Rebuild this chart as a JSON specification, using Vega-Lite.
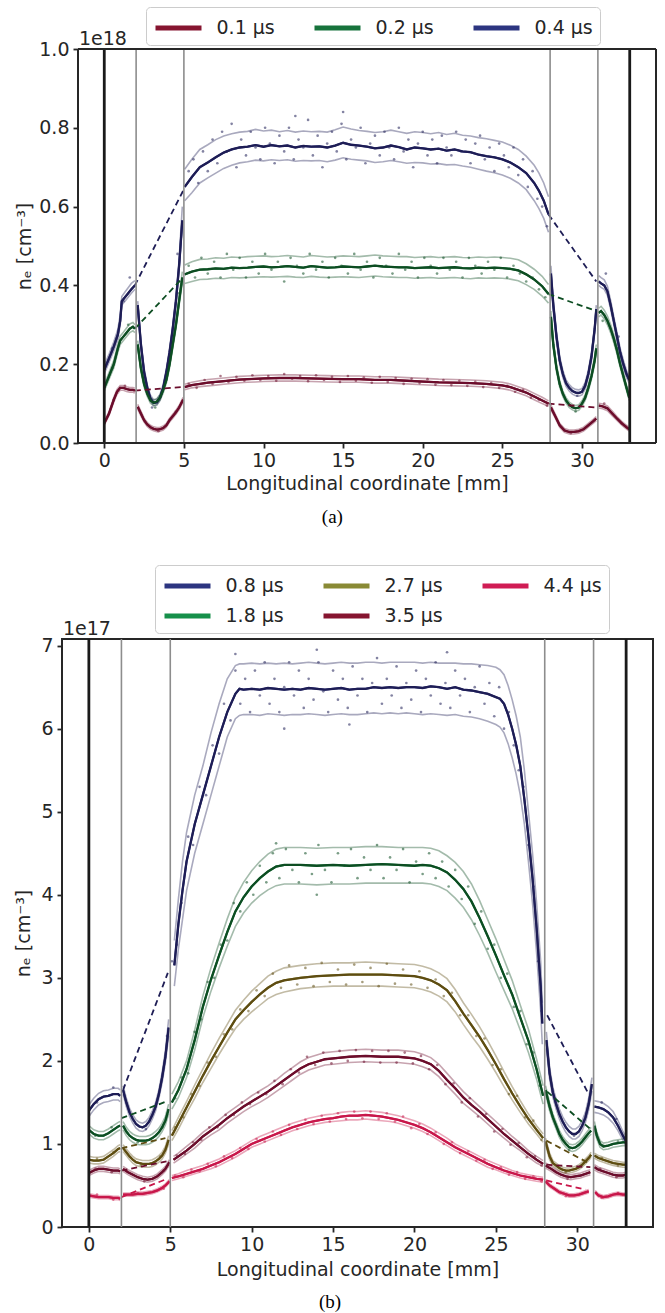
{
"$schema":"https://vega.github.io/schema/vega-lite/v6.json",
"background":"white",
"padding":{"left":13,"top":6,"right":4,"bottom":2},
"config":{
 "font":"DejaVu Sans",
 "view":{"stroke":"#262626","strokeWidth":2},
 "axis":{"grid":false,"domain":false,"tickColor":"#262626","tickWidth":1.8,"tickSize":5,"labelFontSize":19,"labelColor":"#262626","labelPadding":3,"titleFontSize":19,"titleFontWeight":"normal","titleColor":"#262626"},
 "axisY":{"labelPadding":4,"minExtent":0},
 "legend":{"orient":"none","direction":"horizontal","columns":3,"symbolType":"M-2,0H2","symbolStrokeWidth":5,"symbolSize":529,"symbolOffset":11.5,"symbolOpacity":1,"labelFontSize":19,"labelColor":"#262626","labelOffset":24,"columnPadding":29,"rowPadding":6,"padding":7,"strokeColor":"#cccccc","fillColor":"white","cornerRadius":4}
},
"datasets":{
"gr":[{"x":2},{"x":5},{"x":28},{"x":31}],
"bk":[{"x":0},{"x":33}],
"la":[
{"t":"0.4 μs","s":1,"x":0,"y":0.186,"l":0.176,"h":0.197},{"t":"0.4 μs","s":1,"x":0.3,"y":0.215,"l":0.205,"h":0.226},{"t":"0.4 μs","s":1,"x":0.6,"y":0.245,"l":0.234,"h":0.257},{"t":"0.4 μs","s":1,"x":0.85,"y":0.275,"l":0.264,"h":0.288},{"t":"0.4 μs","s":1,"x":1.0,"y":0.31,"l":0.3,"h":0.325},{"t":"0.4 μs","s":1,"x":1.1,"y":0.36,"l":0.35,"h":0.372},{"t":"0.4 μs","s":1,"x":1.3,"y":0.37,"l":0.36,"h":0.383},{"t":"0.4 μs","s":1,"x":1.5,"y":0.38,"l":0.37,"h":0.394},{"t":"0.4 μs","s":1,"x":1.7,"y":0.39,"l":0.38,"h":0.405},{"t":"0.4 μs","s":1,"x":1.92,"y":0.4,"l":0.39,"h":0.412},
{"t":"0.4 μs","s":2,"x":2.1,"y":0.35,"l":0.34,"h":0.36},{"t":"0.4 μs","s":2,"x":2.3,"y":0.25,"l":0.24,"h":0.26},{"t":"0.4 μs","s":2,"x":2.5,"y":0.18,"l":0.17,"h":0.19},{"t":"0.4 μs","s":2,"x":2.7,"y":0.14,"l":0.132,"h":0.148},{"t":"0.4 μs","s":2,"x":2.9,"y":0.113,"l":0.106,"h":0.121},{"t":"0.4 μs","s":2,"x":3.1,"y":0.102,"l":0.095,"h":0.11},{"t":"0.4 μs","s":2,"x":3.3,"y":0.103,"l":0.096,"h":0.111},{"t":"0.4 μs","s":2,"x":3.5,"y":0.115,"l":0.108,"h":0.123},{"t":"0.4 μs","s":2,"x":3.7,"y":0.14,"l":0.132,"h":0.148},{"t":"0.4 μs","s":2,"x":3.9,"y":0.18,"l":0.171,"h":0.189},{"t":"0.4 μs","s":2,"x":4.1,"y":0.23,"l":0.22,"h":0.24},{"t":"0.4 μs","s":2,"x":4.3,"y":0.29,"l":0.28,"h":0.3},{"t":"0.4 μs","s":2,"x":4.5,"y":0.36,"l":0.35,"h":0.372},{"t":"0.4 μs","s":2,"x":4.7,"y":0.45,"l":0.44,"h":0.465},{"t":"0.4 μs","s":2,"x":4.9,"y":0.565,"l":0.55,"h":0.6},
{"t":"0.4 μs","s":3,"x":5.05,"y":0.65,"l":0.615,"h":0.695},{"t":"0.4 μs","s":3,"x":5.5,"y":0.675,"l":0.635,"h":0.72},{"t":"0.4 μs","s":3,"x":6,"y":0.7,"l":0.66,"h":0.745},{"t":"0.4 μs","s":3,"x":6.5,"y":0.712,"l":0.673,"h":0.757},{"t":"0.4 μs","s":3,"x":7,"y":0.725,"l":0.685,"h":0.77},{"t":"0.4 μs","s":3,"x":7.5,"y":0.737,"l":0.697,"h":0.779},{"t":"0.4 μs","s":3,"x":8,"y":0.745,"l":0.705,"h":0.785},{"t":"0.4 μs","s":3,"x":8.5,"y":0.75,"l":0.711,"h":0.789},{"t":"0.4 μs","s":3,"x":9,"y":0.752,"l":0.714,"h":0.791},{"t":"0.4 μs","s":3,"x":9.5,"y":0.756,"l":0.718,"h":0.796},{"t":"0.4 μs","s":3,"x":10,"y":0.752,"l":0.716,"h":0.792},{"t":"0.4 μs","s":3,"x":10.5,"y":0.756,"l":0.719,"h":0.794},{"t":"0.4 μs","s":3,"x":11,"y":0.753,"l":0.717,"h":0.79},{"t":"0.4 μs","s":3,"x":11.5,"y":0.755,"l":0.719,"h":0.793},{"t":"0.4 μs","s":3,"x":12,"y":0.75,"l":0.715,"h":0.789},{"t":"0.4 μs","s":3,"x":12.5,"y":0.754,"l":0.717,"h":0.792},{"t":"0.4 μs","s":3,"x":13,"y":0.752,"l":0.716,"h":0.79},{"t":"0.4 μs","s":3,"x":13.5,"y":0.753,"l":0.717,"h":0.791},{"t":"0.4 μs","s":3,"x":14,"y":0.75,"l":0.714,"h":0.789},{"t":"0.4 μs","s":3,"x":14.5,"y":0.755,"l":0.718,"h":0.795},{"t":"0.4 μs","s":3,"x":15,"y":0.762,"l":0.724,"h":0.802},{"t":"0.4 μs","s":3,"x":15.5,"y":0.757,"l":0.72,"h":0.797},{"t":"0.4 μs","s":3,"x":16,"y":0.755,"l":0.718,"h":0.793},{"t":"0.4 μs","s":3,"x":16.5,"y":0.752,"l":0.716,"h":0.791},{"t":"0.4 μs","s":3,"x":17,"y":0.748,"l":0.712,"h":0.788},{"t":"0.4 μs","s":3,"x":17.5,"y":0.75,"l":0.714,"h":0.79},{"t":"0.4 μs","s":3,"x":18,"y":0.755,"l":0.717,"h":0.794},{"t":"0.4 μs","s":3,"x":18.5,"y":0.751,"l":0.714,"h":0.79},{"t":"0.4 μs","s":3,"x":19,"y":0.745,"l":0.71,"h":0.786},{"t":"0.4 μs","s":3,"x":19.5,"y":0.75,"l":0.712,"h":0.79},{"t":"0.4 μs","s":3,"x":20,"y":0.748,"l":0.711,"h":0.788},{"t":"0.4 μs","s":3,"x":20.5,"y":0.745,"l":0.708,"h":0.785},{"t":"0.4 μs","s":3,"x":21,"y":0.747,"l":0.709,"h":0.788},{"t":"0.4 μs","s":3,"x":21.5,"y":0.742,"l":0.706,"h":0.783},{"t":"0.4 μs","s":3,"x":22,"y":0.745,"l":0.707,"h":0.786},{"t":"0.4 μs","s":3,"x":22.5,"y":0.74,"l":0.703,"h":0.781},{"t":"0.4 μs","s":3,"x":23,"y":0.738,"l":0.7,"h":0.779},{"t":"0.4 μs","s":3,"x":23.5,"y":0.732,"l":0.695,"h":0.775},{"t":"0.4 μs","s":3,"x":24,"y":0.728,"l":0.69,"h":0.772},{"t":"0.4 μs","s":3,"x":24.5,"y":0.725,"l":0.686,"h":0.768},{"t":"0.4 μs","s":3,"x":25,"y":0.72,"l":0.68,"h":0.764},{"t":"0.4 μs","s":3,"x":25.5,"y":0.712,"l":0.672,"h":0.756},{"t":"0.4 μs","s":3,"x":26,"y":0.7,"l":0.66,"h":0.745},{"t":"0.4 μs","s":3,"x":26.5,"y":0.685,"l":0.643,"h":0.728},{"t":"0.4 μs","s":3,"x":27,"y":0.66,"l":0.615,"h":0.705},{"t":"0.4 μs","s":3,"x":27.3,"y":0.64,"l":0.595,"h":0.685},{"t":"0.4 μs","s":3,"x":27.6,"y":0.615,"l":0.57,"h":0.66},{"t":"0.4 μs","s":3,"x":27.9,"y":0.58,"l":0.535,"h":0.625},
{"t":"0.4 μs","s":4,"x":28.05,"y":0.43,"l":0.41,"h":0.45},{"t":"0.4 μs","s":4,"x":28.2,"y":0.35,"l":0.335,"h":0.365},{"t":"0.4 μs","s":4,"x":28.4,"y":0.27,"l":0.258,"h":0.282},{"t":"0.4 μs","s":4,"x":28.6,"y":0.21,"l":0.2,"h":0.22},{"t":"0.4 μs","s":4,"x":28.8,"y":0.175,"l":0.166,"h":0.184},{"t":"0.4 μs","s":4,"x":29.0,"y":0.152,"l":0.144,"h":0.16},{"t":"0.4 μs","s":4,"x":29.2,"y":0.14,"l":0.132,"h":0.148},{"t":"0.4 μs","s":4,"x":29.4,"y":0.132,"l":0.124,"h":0.14},{"t":"0.4 μs","s":4,"x":29.6,"y":0.128,"l":0.12,"h":0.136},{"t":"0.4 μs","s":4,"x":29.8,"y":0.127,"l":0.119,"h":0.135},{"t":"0.4 μs","s":4,"x":30.0,"y":0.13,"l":0.122,"h":0.138},{"t":"0.4 μs","s":4,"x":30.2,"y":0.145,"l":0.137,"h":0.153},{"t":"0.4 μs","s":4,"x":30.4,"y":0.175,"l":0.166,"h":0.184},{"t":"0.4 μs","s":4,"x":30.6,"y":0.22,"l":0.21,"h":0.23},{"t":"0.4 μs","s":4,"x":30.8,"y":0.29,"l":0.28,"h":0.3},{"t":"0.4 μs","s":4,"x":30.9,"y":0.34,"l":0.33,"h":0.35},
{"t":"0.4 μs","s":5,"x":31.05,"y":0.41,"l":0.4,"h":0.425},{"t":"0.4 μs","s":5,"x":31.2,"y":0.405,"l":0.395,"h":0.42},{"t":"0.4 μs","s":5,"x":31.4,"y":0.4,"l":0.39,"h":0.414},{"t":"0.4 μs","s":5,"x":31.6,"y":0.385,"l":0.375,"h":0.398},{"t":"0.4 μs","s":5,"x":31.8,"y":0.35,"l":0.34,"h":0.362},{"t":"0.4 μs","s":5,"x":32.0,"y":0.31,"l":0.3,"h":0.32},{"t":"0.4 μs","s":5,"x":32.2,"y":0.27,"l":0.26,"h":0.28},{"t":"0.4 μs","s":5,"x":32.4,"y":0.23,"l":0.22,"h":0.24},{"t":"0.4 μs","s":5,"x":32.6,"y":0.2,"l":0.19,"h":0.21},{"t":"0.4 μs","s":5,"x":32.8,"y":0.175,"l":0.166,"h":0.184},{"t":"0.4 μs","s":5,"x":32.97,"y":0.16,"l":0.152,"h":0.168},
{"t":"0.2 μs","s":1,"x":0,"y":0.14,"l":0.132,"h":0.148},{"t":"0.2 μs","s":1,"x":0.3,"y":0.17,"l":0.162,"h":0.179},{"t":"0.2 μs","s":1,"x":0.6,"y":0.2,"l":0.191,"h":0.21},{"t":"0.2 μs","s":1,"x":0.85,"y":0.24,"l":0.23,"h":0.25},{"t":"0.2 μs","s":1,"x":1.0,"y":0.26,"l":0.25,"h":0.271},{"t":"0.2 μs","s":1,"x":1.2,"y":0.27,"l":0.26,"h":0.281},{"t":"0.2 μs","s":1,"x":1.4,"y":0.28,"l":0.27,"h":0.292},{"t":"0.2 μs","s":1,"x":1.6,"y":0.29,"l":0.28,"h":0.302},{"t":"0.2 μs","s":1,"x":1.8,"y":0.295,"l":0.285,"h":0.306},{"t":"0.2 μs","s":1,"x":1.92,"y":0.29,"l":0.28,"h":0.3},
{"t":"0.2 μs","s":2,"x":2.1,"y":0.25,"l":0.24,"h":0.26},{"t":"0.2 μs","s":2,"x":2.3,"y":0.19,"l":0.181,"h":0.199},{"t":"0.2 μs","s":2,"x":2.5,"y":0.15,"l":0.142,"h":0.158},{"t":"0.2 μs","s":2,"x":2.7,"y":0.125,"l":0.118,"h":0.132},{"t":"0.2 μs","s":2,"x":2.9,"y":0.108,"l":0.101,"h":0.115},{"t":"0.2 μs","s":2,"x":3.1,"y":0.102,"l":0.095,"h":0.109},{"t":"0.2 μs","s":2,"x":3.3,"y":0.105,"l":0.098,"h":0.112},{"t":"0.2 μs","s":2,"x":3.5,"y":0.115,"l":0.108,"h":0.122},{"t":"0.2 μs","s":2,"x":3.7,"y":0.135,"l":0.127,"h":0.143},{"t":"0.2 μs","s":2,"x":3.9,"y":0.16,"l":0.152,"h":0.168},{"t":"0.2 μs","s":2,"x":4.1,"y":0.2,"l":0.191,"h":0.209},{"t":"0.2 μs","s":2,"x":4.3,"y":0.25,"l":0.24,"h":0.26},{"t":"0.2 μs","s":2,"x":4.5,"y":0.3,"l":0.29,"h":0.31},{"t":"0.2 μs","s":2,"x":4.7,"y":0.36,"l":0.35,"h":0.37},{"t":"0.2 μs","s":2,"x":4.9,"y":0.42,"l":0.405,"h":0.435},
{"t":"0.2 μs","s":3,"x":5.05,"y":0.428,"l":0.405,"h":0.452},{"t":"0.2 μs","s":3,"x":5.5,"y":0.435,"l":0.41,"h":0.46},{"t":"0.2 μs","s":3,"x":6,"y":0.44,"l":0.415,"h":0.466},{"t":"0.2 μs","s":3,"x":6.5,"y":0.441,"l":0.416,"h":0.467},{"t":"0.2 μs","s":3,"x":7,"y":0.443,"l":0.418,"h":0.47},{"t":"0.2 μs","s":3,"x":7.5,"y":0.442,"l":0.417,"h":0.469},{"t":"0.2 μs","s":3,"x":8,"y":0.445,"l":0.42,"h":0.472},{"t":"0.2 μs","s":3,"x":8.5,"y":0.444,"l":0.419,"h":0.471},{"t":"0.2 μs","s":3,"x":9,"y":0.445,"l":0.42,"h":0.473},{"t":"0.2 μs","s":3,"x":9.5,"y":0.447,"l":0.421,"h":0.474},{"t":"0.2 μs","s":3,"x":10,"y":0.448,"l":0.422,"h":0.475},{"t":"0.2 μs","s":3,"x":10.5,"y":0.446,"l":0.421,"h":0.473},{"t":"0.2 μs","s":3,"x":11,"y":0.447,"l":0.422,"h":0.474},{"t":"0.2 μs","s":3,"x":11.5,"y":0.449,"l":0.423,"h":0.476},{"t":"0.2 μs","s":3,"x":12,"y":0.447,"l":0.421,"h":0.474},{"t":"0.2 μs","s":3,"x":12.5,"y":0.445,"l":0.42,"h":0.472},{"t":"0.2 μs","s":3,"x":13,"y":0.449,"l":0.423,"h":0.476},{"t":"0.2 μs","s":3,"x":13.5,"y":0.447,"l":0.421,"h":0.474},{"t":"0.2 μs","s":3,"x":14,"y":0.445,"l":0.42,"h":0.472},{"t":"0.2 μs","s":3,"x":14.5,"y":0.446,"l":0.421,"h":0.473},{"t":"0.2 μs","s":3,"x":15,"y":0.448,"l":0.422,"h":0.475},{"t":"0.2 μs","s":3,"x":15.5,"y":0.447,"l":0.421,"h":0.474},{"t":"0.2 μs","s":3,"x":16,"y":0.446,"l":0.42,"h":0.473},{"t":"0.2 μs","s":3,"x":16.5,"y":0.448,"l":0.422,"h":0.475},{"t":"0.2 μs","s":3,"x":17,"y":0.45,"l":0.424,"h":0.477},{"t":"0.2 μs","s":3,"x":17.5,"y":0.448,"l":0.422,"h":0.475},{"t":"0.2 μs","s":3,"x":18,"y":0.447,"l":0.421,"h":0.474},{"t":"0.2 μs","s":3,"x":18.5,"y":0.446,"l":0.42,"h":0.473},{"t":"0.2 μs","s":3,"x":19,"y":0.446,"l":0.42,"h":0.473},{"t":"0.2 μs","s":3,"x":19.5,"y":0.444,"l":0.418,"h":0.471},{"t":"0.2 μs","s":3,"x":20,"y":0.445,"l":0.419,"h":0.472},{"t":"0.2 μs","s":3,"x":20.5,"y":0.446,"l":0.42,"h":0.473},{"t":"0.2 μs","s":3,"x":21,"y":0.444,"l":0.418,"h":0.471},{"t":"0.2 μs","s":3,"x":21.5,"y":0.445,"l":0.419,"h":0.472},{"t":"0.2 μs","s":3,"x":22,"y":0.446,"l":0.42,"h":0.473},{"t":"0.2 μs","s":3,"x":22.5,"y":0.444,"l":0.418,"h":0.471},{"t":"0.2 μs","s":3,"x":23,"y":0.443,"l":0.417,"h":0.47},{"t":"0.2 μs","s":3,"x":23.5,"y":0.445,"l":0.419,"h":0.472},{"t":"0.2 μs","s":3,"x":24,"y":0.444,"l":0.418,"h":0.471},{"t":"0.2 μs","s":3,"x":24.5,"y":0.445,"l":0.419,"h":0.472},{"t":"0.2 μs","s":3,"x":25,"y":0.444,"l":0.418,"h":0.471},{"t":"0.2 μs","s":3,"x":25.5,"y":0.442,"l":0.416,"h":0.469},{"t":"0.2 μs","s":3,"x":26,"y":0.438,"l":0.412,"h":0.465},{"t":"0.2 μs","s":3,"x":26.5,"y":0.428,"l":0.402,"h":0.455},{"t":"0.2 μs","s":3,"x":27,"y":0.415,"l":0.39,"h":0.441},{"t":"0.2 μs","s":3,"x":27.5,"y":0.398,"l":0.373,"h":0.423},{"t":"0.2 μs","s":3,"x":27.9,"y":0.378,"l":0.355,"h":0.402},
{"t":"0.2 μs","s":4,"x":28.05,"y":0.32,"l":0.305,"h":0.335},{"t":"0.2 μs","s":4,"x":28.2,"y":0.25,"l":0.24,"h":0.26},{"t":"0.2 μs","s":4,"x":28.4,"y":0.19,"l":0.181,"h":0.199},{"t":"0.2 μs","s":4,"x":28.6,"y":0.15,"l":0.142,"h":0.158},{"t":"0.2 μs","s":4,"x":28.8,"y":0.125,"l":0.118,"h":0.132},{"t":"0.2 μs","s":4,"x":29.0,"y":0.108,"l":0.101,"h":0.115},{"t":"0.2 μs","s":4,"x":29.2,"y":0.097,"l":0.09,"h":0.104},{"t":"0.2 μs","s":4,"x":29.4,"y":0.091,"l":0.084,"h":0.098},{"t":"0.2 μs","s":4,"x":29.6,"y":0.088,"l":0.081,"h":0.095},{"t":"0.2 μs","s":4,"x":29.8,"y":0.09,"l":0.083,"h":0.097},{"t":"0.2 μs","s":4,"x":30.0,"y":0.1,"l":0.093,"h":0.107},{"t":"0.2 μs","s":4,"x":30.2,"y":0.115,"l":0.108,"h":0.122},{"t":"0.2 μs","s":4,"x":30.4,"y":0.14,"l":0.132,"h":0.148},{"t":"0.2 μs","s":4,"x":30.6,"y":0.17,"l":0.162,"h":0.178},{"t":"0.2 μs","s":4,"x":30.8,"y":0.21,"l":0.2,"h":0.22},{"t":"0.2 μs","s":4,"x":30.9,"y":0.24,"l":0.23,"h":0.25},
{"t":"0.2 μs","s":5,"x":31.05,"y":0.33,"l":0.32,"h":0.342},{"t":"0.2 μs","s":5,"x":31.2,"y":0.335,"l":0.325,"h":0.347},{"t":"0.2 μs","s":5,"x":31.4,"y":0.325,"l":0.315,"h":0.337},{"t":"0.2 μs","s":5,"x":31.6,"y":0.31,"l":0.3,"h":0.322},{"t":"0.2 μs","s":5,"x":31.8,"y":0.29,"l":0.28,"h":0.301},{"t":"0.2 μs","s":5,"x":32.0,"y":0.265,"l":0.255,"h":0.275},{"t":"0.2 μs","s":5,"x":32.2,"y":0.235,"l":0.226,"h":0.245},{"t":"0.2 μs","s":5,"x":32.4,"y":0.2,"l":0.192,"h":0.209},{"t":"0.2 μs","s":5,"x":32.6,"y":0.17,"l":0.162,"h":0.178},{"t":"0.2 μs","s":5,"x":32.8,"y":0.14,"l":0.133,"h":0.147},{"t":"0.2 μs","s":5,"x":32.97,"y":0.115,"l":0.108,"h":0.122},
{"t":"0.1 μs","s":1,"x":0,"y":0.05,"l":0.045,"h":0.055},{"t":"0.1 μs","s":1,"x":0.3,"y":0.075,"l":0.07,"h":0.08},{"t":"0.1 μs","s":1,"x":0.6,"y":0.11,"l":0.104,"h":0.116},{"t":"0.1 μs","s":1,"x":0.8,"y":0.13,"l":0.124,"h":0.136},{"t":"0.1 μs","s":1,"x":1.0,"y":0.14,"l":0.134,"h":0.146},{"t":"0.1 μs","s":1,"x":1.2,"y":0.14,"l":0.134,"h":0.146},{"t":"0.1 μs","s":1,"x":1.4,"y":0.137,"l":0.131,"h":0.143},{"t":"0.1 μs","s":1,"x":1.6,"y":0.135,"l":0.129,"h":0.141},{"t":"0.1 μs","s":1,"x":1.8,"y":0.135,"l":0.129,"h":0.141},{"t":"0.1 μs","s":1,"x":1.92,"y":0.133,"l":0.127,"h":0.139},
{"t":"0.1 μs","s":2,"x":2.1,"y":0.092,"l":0.086,"h":0.098},{"t":"0.1 μs","s":2,"x":2.3,"y":0.075,"l":0.069,"h":0.081},{"t":"0.1 μs","s":2,"x":2.5,"y":0.058,"l":0.053,"h":0.063},{"t":"0.1 μs","s":2,"x":2.7,"y":0.047,"l":0.042,"h":0.052},{"t":"0.1 μs","s":2,"x":2.9,"y":0.04,"l":0.035,"h":0.045},{"t":"0.1 μs","s":2,"x":3.1,"y":0.036,"l":0.031,"h":0.041},{"t":"0.1 μs","s":2,"x":3.3,"y":0.034,"l":0.029,"h":0.039},{"t":"0.1 μs","s":2,"x":3.5,"y":0.035,"l":0.03,"h":0.04},{"t":"0.1 μs","s":2,"x":3.7,"y":0.038,"l":0.033,"h":0.043},{"t":"0.1 μs","s":2,"x":3.9,"y":0.045,"l":0.04,"h":0.05},{"t":"0.1 μs","s":2,"x":4.1,"y":0.058,"l":0.053,"h":0.063},{"t":"0.1 μs","s":2,"x":4.3,"y":0.068,"l":0.063,"h":0.073},{"t":"0.1 μs","s":2,"x":4.5,"y":0.078,"l":0.073,"h":0.083},{"t":"0.1 μs","s":2,"x":4.7,"y":0.09,"l":0.085,"h":0.095},{"t":"0.1 μs","s":2,"x":4.95,"y":0.11,"l":0.104,"h":0.116},
{"t":"0.1 μs","s":3,"x":5.05,"y":0.142,"l":0.135,"h":0.149},{"t":"0.1 μs","s":3,"x":5.5,"y":0.147,"l":0.14,"h":0.154},{"t":"0.1 μs","s":3,"x":6,"y":0.15,"l":0.143,"h":0.158},{"t":"0.1 μs","s":3,"x":6.5,"y":0.153,"l":0.145,"h":0.161},{"t":"0.1 μs","s":3,"x":7,"y":0.155,"l":0.147,"h":0.163},{"t":"0.1 μs","s":3,"x":7.5,"y":0.157,"l":0.149,"h":0.165},{"t":"0.1 μs","s":3,"x":8,"y":0.159,"l":0.151,"h":0.167},{"t":"0.1 μs","s":3,"x":8.5,"y":0.161,"l":0.153,"h":0.169},{"t":"0.1 μs","s":3,"x":9,"y":0.162,"l":0.154,"h":0.17},{"t":"0.1 μs","s":3,"x":9.5,"y":0.163,"l":0.155,"h":0.171},{"t":"0.1 μs","s":3,"x":10,"y":0.164,"l":0.156,"h":0.172},{"t":"0.1 μs","s":3,"x":11,"y":0.165,"l":0.157,"h":0.173},{"t":"0.1 μs","s":3,"x":12,"y":0.165,"l":0.157,"h":0.173},{"t":"0.1 μs","s":3,"x":13,"y":0.164,"l":0.156,"h":0.172},{"t":"0.1 μs","s":3,"x":14,"y":0.163,"l":0.155,"h":0.171},{"t":"0.1 μs","s":3,"x":15,"y":0.162,"l":0.154,"h":0.17},{"t":"0.1 μs","s":3,"x":16,"y":0.162,"l":0.154,"h":0.17},{"t":"0.1 μs","s":3,"x":17,"y":0.16,"l":0.152,"h":0.168},{"t":"0.1 μs","s":3,"x":18,"y":0.16,"l":0.152,"h":0.168},{"t":"0.1 μs","s":3,"x":19,"y":0.158,"l":0.15,"h":0.166},{"t":"0.1 μs","s":3,"x":20,"y":0.156,"l":0.148,"h":0.164},{"t":"0.1 μs","s":3,"x":21,"y":0.154,"l":0.146,"h":0.162},{"t":"0.1 μs","s":3,"x":22,"y":0.153,"l":0.145,"h":0.161},{"t":"0.1 μs","s":3,"x":23,"y":0.152,"l":0.144,"h":0.16},{"t":"0.1 μs","s":3,"x":24,"y":0.15,"l":0.142,"h":0.158},{"t":"0.1 μs","s":3,"x":25,"y":0.146,"l":0.138,"h":0.154},{"t":"0.1 μs","s":3,"x":25.5,"y":0.142,"l":0.134,"h":0.15},{"t":"0.1 μs","s":3,"x":26,"y":0.135,"l":0.127,"h":0.143},{"t":"0.1 μs","s":3,"x":26.5,"y":0.128,"l":0.12,"h":0.136},{"t":"0.1 μs","s":3,"x":27,"y":0.118,"l":0.11,"h":0.126},{"t":"0.1 μs","s":3,"x":27.5,"y":0.108,"l":0.1,"h":0.116},{"t":"0.1 μs","s":3,"x":27.9,"y":0.1,"l":0.093,"h":0.107},
{"t":"0.1 μs","s":4,"x":28.05,"y":0.09,"l":0.084,"h":0.096},{"t":"0.1 μs","s":4,"x":28.3,"y":0.07,"l":0.065,"h":0.075},{"t":"0.1 μs","s":4,"x":28.6,"y":0.045,"l":0.04,"h":0.05},{"t":"0.1 μs","s":4,"x":28.9,"y":0.032,"l":0.027,"h":0.037},{"t":"0.1 μs","s":4,"x":29.2,"y":0.028,"l":0.023,"h":0.033},{"t":"0.1 μs","s":4,"x":29.5,"y":0.028,"l":0.023,"h":0.033},{"t":"0.1 μs","s":4,"x":29.8,"y":0.03,"l":0.025,"h":0.035},{"t":"0.1 μs","s":4,"x":30.1,"y":0.035,"l":0.03,"h":0.04},{"t":"0.1 μs","s":4,"x":30.4,"y":0.045,"l":0.04,"h":0.05},{"t":"0.1 μs","s":4,"x":30.7,"y":0.055,"l":0.05,"h":0.06},{"t":"0.1 μs","s":4,"x":30.9,"y":0.062,"l":0.057,"h":0.067},
{"t":"0.1 μs","s":5,"x":31.05,"y":0.095,"l":0.089,"h":0.101},{"t":"0.1 μs","s":5,"x":31.3,"y":0.093,"l":0.087,"h":0.099},{"t":"0.1 μs","s":5,"x":31.6,"y":0.088,"l":0.082,"h":0.094},{"t":"0.1 μs","s":5,"x":31.9,"y":0.075,"l":0.069,"h":0.081},{"t":"0.1 μs","s":5,"x":32.2,"y":0.062,"l":0.057,"h":0.067},{"t":"0.1 μs","s":5,"x":32.5,"y":0.05,"l":0.045,"h":0.055},{"t":"0.1 μs","s":5,"x":32.8,"y":0.04,"l":0.035,"h":0.045},{"t":"0.1 μs","s":5,"x":32.97,"y":0.035,"l":0.03,"h":0.04}
],
"da":[
{"t":"0.4 μs","s":"L","x":1.92,"y":0.4},{"t":"0.4 μs","s":"L","x":4.95,"y":0.64},{"t":"0.4 μs","s":"R","x":27.9,"y":0.58},{"t":"0.4 μs","s":"R","x":30.9,"y":0.41},
{"t":"0.2 μs","s":"L","x":1.92,"y":0.29},{"t":"0.2 μs","s":"L","x":4.95,"y":0.42},{"t":"0.2 μs","s":"R","x":27.9,"y":0.378},{"t":"0.2 μs","s":"R","x":30.9,"y":0.335},
{"t":"0.1 μs","s":"L","x":1.92,"y":0.133},{"t":"0.1 μs","s":"L","x":4.95,"y":0.142},{"t":"0.1 μs","s":"R","x":27.9,"y":0.1},{"t":"0.1 μs","s":"R","x":30.9,"y":0.09}
],
"pa":[
{"t":"0.4 μs","x":5.3,"y":0.69},{"t":"0.4 μs","x":5.6,"y":0.72},{"t":"0.4 μs","x":5.9,"y":0.66},{"t":"0.4 μs","x":6.2,"y":0.74},{"t":"0.4 μs","x":6.5,"y":0.69},{"t":"0.4 μs","x":6.8,"y":0.77},{"t":"0.4 μs","x":7.1,"y":0.71},{"t":"0.4 μs","x":7.4,"y":0.79},{"t":"0.4 μs","x":7.7,"y":0.74},{"t":"0.4 μs","x":8.0,"y":0.81},{"t":"0.4 μs","x":8.3,"y":0.7},{"t":"0.4 μs","x":8.6,"y":0.77},{"t":"0.4 μs","x":8.9,"y":0.73},{"t":"0.4 μs","x":9.2,"y":0.79},{"t":"0.4 μs","x":9.5,"y":0.75},{"t":"0.4 μs","x":9.8,"y":0.72},{"t":"0.4 μs","x":10.1,"y":0.8},{"t":"0.4 μs","x":10.4,"y":0.76},{"t":"0.4 μs","x":10.7,"y":0.71},{"t":"0.4 μs","x":11.0,"y":0.78},{"t":"0.4 μs","x":11.3,"y":0.74},{"t":"0.4 μs","x":11.6,"y":0.8},{"t":"0.4 μs","x":11.9,"y":0.72},{"t":"0.4 μs","x":12.2,"y":0.77},{"t":"0.4 μs","x":12.5,"y":0.75},{"t":"0.4 μs","x":12.8,"y":0.82},{"t":"0.4 μs","x":13.1,"y":0.73},{"t":"0.4 μs","x":13.4,"y":0.78},{"t":"0.4 μs","x":13.7,"y":0.7},{"t":"0.4 μs","x":14.0,"y":0.76},{"t":"0.4 μs","x":14.3,"y":0.79},{"t":"0.4 μs","x":14.6,"y":0.74},{"t":"0.4 μs","x":14.9,"y":0.81},{"t":"0.4 μs","x":15.2,"y":0.72},{"t":"0.4 μs","x":15.5,"y":0.77},{"t":"0.4 μs","x":15.8,"y":0.75},{"t":"0.4 μs","x":16.1,"y":0.8},{"t":"0.4 μs","x":16.4,"y":0.71},{"t":"0.4 μs","x":16.7,"y":0.76},{"t":"0.4 μs","x":17.0,"y":0.78},{"t":"0.4 μs","x":17.3,"y":0.73},{"t":"0.4 μs","x":17.6,"y":0.79},{"t":"0.4 μs","x":17.9,"y":0.75},{"t":"0.4 μs","x":18.2,"y":0.72},{"t":"0.4 μs","x":18.5,"y":0.8},{"t":"0.4 μs","x":18.8,"y":0.74},{"t":"0.4 μs","x":19.1,"y":0.77},{"t":"0.4 μs","x":19.4,"y":0.7},{"t":"0.4 μs","x":19.7,"y":0.76},{"t":"0.4 μs","x":20.0,"y":0.79},{"t":"0.4 μs","x":20.3,"y":0.73},{"t":"0.4 μs","x":20.6,"y":0.77},{"t":"0.4 μs","x":20.9,"y":0.71},{"t":"0.4 μs","x":21.2,"y":0.78},{"t":"0.4 μs","x":21.5,"y":0.75},{"t":"0.4 μs","x":21.8,"y":0.73},{"t":"0.4 μs","x":22.1,"y":0.79},{"t":"0.4 μs","x":22.4,"y":0.74},{"t":"0.4 μs","x":22.7,"y":0.77},{"t":"0.4 μs","x":23.0,"y":0.71},{"t":"0.4 μs","x":23.3,"y":0.76},{"t":"0.4 μs","x":23.6,"y":0.78},{"t":"0.4 μs","x":23.9,"y":0.72},{"t":"0.4 μs","x":24.2,"y":0.75},{"t":"0.4 μs","x":24.5,"y":0.69},{"t":"0.4 μs","x":24.8,"y":0.76},{"t":"0.4 μs","x":25.1,"y":0.73},{"t":"0.4 μs","x":25.4,"y":0.7},{"t":"0.4 μs","x":25.7,"y":0.75},{"t":"0.4 μs","x":26.0,"y":0.68},{"t":"0.4 μs","x":26.3,"y":0.72},{"t":"0.4 μs","x":26.6,"y":0.65},{"t":"0.4 μs","x":26.9,"y":0.69},{"t":"0.4 μs","x":27.2,"y":0.62},{"t":"0.4 μs","x":27.5,"y":0.6},{"t":"0.4 μs","x":27.8,"y":0.55},{"t":"0.4 μs","x":12.0,"y":0.83},{"t":"0.4 μs","x":15.0,"y":0.84},{"t":"0.4 μs","x":0.5,"y":0.24},{"t":"0.4 μs","x":1.2,"y":0.36},{"t":"0.4 μs","x":1.6,"y":0.42},{"t":"0.4 μs","x":3.0,"y":0.09},{"t":"0.4 μs","x":4.6,"y":0.48},{"t":"0.4 μs","x":29.7,"y":0.12},{"t":"0.4 μs","x":31.5,"y":0.43},{"t":"0.4 μs","x":32.3,"y":0.27},
{"t":"0.2 μs","x":5.3,"y":0.45},{"t":"0.2 μs","x":5.7,"y":0.42},{"t":"0.2 μs","x":6.1,"y":0.47},{"t":"0.2 μs","x":6.5,"y":0.43},{"t":"0.2 μs","x":6.9,"y":0.46},{"t":"0.2 μs","x":7.3,"y":0.42},{"t":"0.2 μs","x":7.7,"y":0.48},{"t":"0.2 μs","x":8.1,"y":0.44},{"t":"0.2 μs","x":8.5,"y":0.47},{"t":"0.2 μs","x":8.9,"y":0.42},{"t":"0.2 μs","x":9.3,"y":0.46},{"t":"0.2 μs","x":9.7,"y":0.43},{"t":"0.2 μs","x":10.1,"y":0.48},{"t":"0.2 μs","x":10.5,"y":0.44},{"t":"0.2 μs","x":10.9,"y":0.46},{"t":"0.2 μs","x":11.3,"y":0.41},{"t":"0.2 μs","x":11.7,"y":0.47},{"t":"0.2 μs","x":12.1,"y":0.45},{"t":"0.2 μs","x":12.5,"y":0.43},{"t":"0.2 μs","x":12.9,"y":0.48},{"t":"0.2 μs","x":13.3,"y":0.44},{"t":"0.2 μs","x":13.7,"y":0.46},{"t":"0.2 μs","x":14.1,"y":0.42},{"t":"0.2 μs","x":14.5,"y":0.47},{"t":"0.2 μs","x":14.9,"y":0.45},{"t":"0.2 μs","x":15.3,"y":0.43},{"t":"0.2 μs","x":15.7,"y":0.48},{"t":"0.2 μs","x":16.1,"y":0.44},{"t":"0.2 μs","x":16.5,"y":0.46},{"t":"0.2 μs","x":16.9,"y":0.42},{"t":"0.2 μs","x":17.3,"y":0.47},{"t":"0.2 μs","x":17.7,"y":0.45},{"t":"0.2 μs","x":18.1,"y":0.43},{"t":"0.2 μs","x":18.5,"y":0.48},{"t":"0.2 μs","x":18.9,"y":0.44},{"t":"0.2 μs","x":19.3,"y":0.46},{"t":"0.2 μs","x":19.7,"y":0.42},{"t":"0.2 μs","x":20.1,"y":0.47},{"t":"0.2 μs","x":20.5,"y":0.45},{"t":"0.2 μs","x":20.9,"y":0.43},{"t":"0.2 μs","x":21.3,"y":0.47},{"t":"0.2 μs","x":21.7,"y":0.44},{"t":"0.2 μs","x":22.1,"y":0.46},{"t":"0.2 μs","x":22.5,"y":0.42},{"t":"0.2 μs","x":22.9,"y":0.47},{"t":"0.2 μs","x":23.3,"y":0.45},{"t":"0.2 μs","x":23.7,"y":0.43},{"t":"0.2 μs","x":24.1,"y":0.46},{"t":"0.2 μs","x":24.5,"y":0.44},{"t":"0.2 μs","x":24.9,"y":0.47},{"t":"0.2 μs","x":25.3,"y":0.42},{"t":"0.2 μs","x":25.7,"y":0.45},{"t":"0.2 μs","x":26.1,"y":0.43},{"t":"0.2 μs","x":26.5,"y":0.41},{"t":"0.2 μs","x":26.9,"y":0.42},{"t":"0.2 μs","x":27.3,"y":0.39},{"t":"0.2 μs","x":27.7,"y":0.37},{"t":"0.2 μs","x":0.5,"y":0.19},{"t":"0.2 μs","x":1.5,"y":0.3},{"t":"0.2 μs","x":3.2,"y":0.09},{"t":"0.2 μs","x":4.7,"y":0.38},{"t":"0.2 μs","x":29.6,"y":0.08},{"t":"0.2 μs","x":31.3,"y":0.31},{"t":"0.2 μs","x":32.2,"y":0.24},
{"t":"0.1 μs","x":5.3,"y":0.15},{"t":"0.1 μs","x":5.8,"y":0.14},{"t":"0.1 μs","x":6.3,"y":0.16},{"t":"0.1 μs","x":6.8,"y":0.15},{"t":"0.1 μs","x":7.3,"y":0.17},{"t":"0.1 μs","x":7.8,"y":0.155},{"t":"0.1 μs","x":8.3,"y":0.168},{"t":"0.1 μs","x":8.8,"y":0.158},{"t":"0.1 μs","x":9.3,"y":0.172},{"t":"0.1 μs","x":9.8,"y":0.16},{"t":"0.1 μs","x":10.3,"y":0.17},{"t":"0.1 μs","x":10.8,"y":0.158},{"t":"0.1 μs","x":11.3,"y":0.175},{"t":"0.1 μs","x":11.8,"y":0.163},{"t":"0.1 μs","x":12.3,"y":0.17},{"t":"0.1 μs","x":12.8,"y":0.157},{"t":"0.1 μs","x":13.3,"y":0.172},{"t":"0.1 μs","x":13.8,"y":0.16},{"t":"0.1 μs","x":14.3,"y":0.168},{"t":"0.1 μs","x":14.8,"y":0.155},{"t":"0.1 μs","x":15.3,"y":0.17},{"t":"0.1 μs","x":15.8,"y":0.158},{"t":"0.1 μs","x":16.3,"y":0.166},{"t":"0.1 μs","x":16.8,"y":0.153},{"t":"0.1 μs","x":17.3,"y":0.168},{"t":"0.1 μs","x":17.8,"y":0.155},{"t":"0.1 μs","x":18.3,"y":0.165},{"t":"0.1 μs","x":18.8,"y":0.15},{"t":"0.1 μs","x":19.3,"y":0.163},{"t":"0.1 μs","x":19.8,"y":0.152},{"t":"0.1 μs","x":20.3,"y":0.162},{"t":"0.1 μs","x":20.8,"y":0.148},{"t":"0.1 μs","x":21.3,"y":0.16},{"t":"0.1 μs","x":21.8,"y":0.147},{"t":"0.1 μs","x":22.3,"y":0.158},{"t":"0.1 μs","x":22.8,"y":0.145},{"t":"0.1 μs","x":23.3,"y":0.155},{"t":"0.1 μs","x":23.8,"y":0.142},{"t":"0.1 μs","x":24.3,"y":0.152},{"t":"0.1 μs","x":24.8,"y":0.14},{"t":"0.1 μs","x":25.3,"y":0.145},{"t":"0.1 μs","x":25.8,"y":0.13},{"t":"0.1 μs","x":26.3,"y":0.135},{"t":"0.1 μs","x":26.8,"y":0.115},{"t":"0.1 μs","x":27.3,"y":0.11},{"t":"0.1 μs","x":27.8,"y":0.095},{"t":"0.1 μs","x":0.6,"y":0.11},{"t":"0.1 μs","x":1.3,"y":0.145},{"t":"0.1 μs","x":3.4,"y":0.03},{"t":"0.1 μs","x":4.5,"y":0.08},{"t":"0.1 μs","x":29.3,"y":0.025},{"t":"0.1 μs","x":31.4,"y":0.1},{"t":"0.1 μs","x":32.5,"y":0.05}
],
"lb":[
{"t":"0.8 μs","s":1,"x":0,"y":1.4,"l":1.33,"h":1.47},{"t":"0.8 μs","s":1,"x":0.3,"y":1.48,"l":1.41,"h":1.55},{"t":"0.8 μs","s":1,"x":0.6,"y":1.54,"l":1.47,"h":1.61},{"t":"0.8 μs","s":1,"x":0.9,"y":1.57,"l":1.5,"h":1.64},{"t":"0.8 μs","s":1,"x":1.2,"y":1.58,"l":1.51,"h":1.65},{"t":"0.8 μs","s":1,"x":1.5,"y":1.6,"l":1.53,"h":1.67},{"t":"0.8 μs","s":1,"x":1.8,"y":1.6,"l":1.53,"h":1.67},{"t":"0.8 μs","s":1,"x":1.92,"y":1.58,"l":1.51,"h":1.65},
{"t":"0.8 μs","s":2,"x":2.1,"y":1.65,"l":1.6,"h":1.7},{"t":"0.8 μs","s":2,"x":2.3,"y":1.5,"l":1.45,"h":1.55},{"t":"0.8 μs","s":2,"x":2.5,"y":1.38,"l":1.33,"h":1.43},{"t":"0.8 μs","s":2,"x":2.7,"y":1.3,"l":1.25,"h":1.35},{"t":"0.8 μs","s":2,"x":2.9,"y":1.24,"l":1.19,"h":1.29},{"t":"0.8 μs","s":2,"x":3.1,"y":1.21,"l":1.16,"h":1.26},{"t":"0.8 μs","s":2,"x":3.3,"y":1.2,"l":1.15,"h":1.25},{"t":"0.8 μs","s":2,"x":3.5,"y":1.22,"l":1.17,"h":1.27},{"t":"0.8 μs","s":2,"x":3.7,"y":1.27,"l":1.22,"h":1.32},{"t":"0.8 μs","s":2,"x":3.9,"y":1.35,"l":1.3,"h":1.4},{"t":"0.8 μs","s":2,"x":4.1,"y":1.45,"l":1.4,"h":1.5},{"t":"0.8 μs","s":2,"x":4.3,"y":1.6,"l":1.55,"h":1.65},{"t":"0.8 μs","s":2,"x":4.5,"y":1.8,"l":1.74,"h":1.86},{"t":"0.8 μs","s":2,"x":4.7,"y":2.05,"l":1.98,"h":2.12},{"t":"0.8 μs","s":2,"x":4.9,"y":2.4,"l":2.3,"h":2.5},
{"t":"0.8 μs","s":3,"x":5.25,"y":3.15,"l":2.9,"h":3.45},{"t":"0.8 μs","s":3,"x":5.5,"y":3.65,"l":3.35,"h":3.95},{"t":"0.8 μs","s":3,"x":5.75,"y":4.05,"l":3.7,"h":4.4},{"t":"0.8 μs","s":3,"x":6,"y":4.4,"l":4.05,"h":4.75},{"t":"0.8 μs","s":3,"x":6.5,"y":4.85,"l":4.5,"h":5.2},{"t":"0.8 μs","s":3,"x":7,"y":5.2,"l":4.85,"h":5.55},{"t":"0.8 μs","s":3,"x":7.5,"y":5.55,"l":5.2,"h":5.95},{"t":"0.8 μs","s":3,"x":8,"y":5.9,"l":5.55,"h":6.3},{"t":"0.8 μs","s":3,"x":8.5,"y":6.2,"l":5.9,"h":6.6},{"t":"0.8 μs","s":3,"x":9,"y":6.42,"l":6.12,"h":6.76},{"t":"0.8 μs","s":3,"x":9.25,"y":6.48,"l":6.16,"h":6.78},{"t":"0.8 μs","s":3,"x":9.5,"y":6.47,"l":6.17,"h":6.78},{"t":"0.8 μs","s":3,"x":10,"y":6.48,"l":6.17,"h":6.79},{"t":"0.8 μs","s":3,"x":10.5,"y":6.47,"l":6.16,"h":6.78},{"t":"0.8 μs","s":3,"x":11,"y":6.49,"l":6.18,"h":6.79},{"t":"0.8 μs","s":3,"x":11.5,"y":6.48,"l":6.17,"h":6.78},{"t":"0.8 μs","s":3,"x":12,"y":6.47,"l":6.16,"h":6.79},{"t":"0.8 μs","s":3,"x":12.5,"y":6.48,"l":6.17,"h":6.78},{"t":"0.8 μs","s":3,"x":13,"y":6.47,"l":6.17,"h":6.79},{"t":"0.8 μs","s":3,"x":13.5,"y":6.49,"l":6.18,"h":6.8},{"t":"0.8 μs","s":3,"x":14,"y":6.48,"l":6.17,"h":6.79},{"t":"0.8 μs","s":3,"x":14.5,"y":6.47,"l":6.16,"h":6.78},{"t":"0.8 μs","s":3,"x":15,"y":6.48,"l":6.17,"h":6.79},{"t":"0.8 μs","s":3,"x":15.5,"y":6.49,"l":6.18,"h":6.8},{"t":"0.8 μs","s":3,"x":16,"y":6.47,"l":6.17,"h":6.79},{"t":"0.8 μs","s":3,"x":16.5,"y":6.48,"l":6.17,"h":6.79},{"t":"0.8 μs","s":3,"x":17,"y":6.48,"l":6.18,"h":6.8},{"t":"0.8 μs","s":3,"x":17.5,"y":6.5,"l":6.19,"h":6.8},{"t":"0.8 μs","s":3,"x":18,"y":6.49,"l":6.18,"h":6.79},{"t":"0.8 μs","s":3,"x":18.5,"y":6.5,"l":6.19,"h":6.8},{"t":"0.8 μs","s":3,"x":19,"y":6.49,"l":6.18,"h":6.8},{"t":"0.8 μs","s":3,"x":19.5,"y":6.5,"l":6.19,"h":6.8},{"t":"0.8 μs","s":3,"x":20,"y":6.5,"l":6.18,"h":6.8},{"t":"0.8 μs","s":3,"x":20.5,"y":6.49,"l":6.17,"h":6.79},{"t":"0.8 μs","s":3,"x":21,"y":6.51,"l":6.18,"h":6.8},{"t":"0.8 μs","s":3,"x":21.5,"y":6.5,"l":6.17,"h":6.79},{"t":"0.8 μs","s":3,"x":22,"y":6.48,"l":6.16,"h":6.79},{"t":"0.8 μs","s":3,"x":22.5,"y":6.5,"l":6.17,"h":6.79},{"t":"0.8 μs","s":3,"x":23,"y":6.47,"l":6.15,"h":6.78},{"t":"0.8 μs","s":3,"x":23.5,"y":6.46,"l":6.14,"h":6.78},{"t":"0.8 μs","s":3,"x":24,"y":6.44,"l":6.12,"h":6.77},{"t":"0.8 μs","s":3,"x":24.5,"y":6.42,"l":6.09,"h":6.76},{"t":"0.8 μs","s":3,"x":25,"y":6.38,"l":6.05,"h":6.74},{"t":"0.8 μs","s":3,"x":25.25,"y":6.36,"l":6.02,"h":6.71},{"t":"0.8 μs","s":3,"x":25.5,"y":6.3,"l":5.95,"h":6.65},{"t":"0.8 μs","s":3,"x":25.75,"y":6.17,"l":5.82,"h":6.52},{"t":"0.8 μs","s":3,"x":26,"y":6.0,"l":5.65,"h":6.35},{"t":"0.8 μs","s":3,"x":26.25,"y":5.8,"l":5.45,"h":6.15},{"t":"0.8 μs","s":3,"x":26.5,"y":5.55,"l":5.2,"h":5.9},{"t":"0.8 μs","s":3,"x":26.75,"y":5.15,"l":4.85,"h":5.5},{"t":"0.8 μs","s":3,"x":27,"y":4.7,"l":4.4,"h":5.0},{"t":"0.8 μs","s":3,"x":27.25,"y":4.2,"l":3.9,"h":4.5},{"t":"0.8 μs","s":3,"x":27.5,"y":3.6,"l":3.3,"h":3.9},{"t":"0.8 μs","s":3,"x":27.75,"y":2.9,"l":2.6,"h":3.2},{"t":"0.8 μs","s":3,"x":27.85,"y":2.45,"l":2.2,"h":2.7},
{"t":"0.8 μs","s":4,"x":28.1,"y":2.25,"l":2.15,"h":2.35},{"t":"0.8 μs","s":4,"x":28.3,"y":1.85,"l":1.78,"h":1.92},{"t":"0.8 μs","s":4,"x":28.5,"y":1.62,"l":1.56,"h":1.68},{"t":"0.8 μs","s":4,"x":28.7,"y":1.48,"l":1.42,"h":1.54},{"t":"0.8 μs","s":4,"x":28.9,"y":1.36,"l":1.3,"h":1.42},{"t":"0.8 μs","s":4,"x":29.1,"y":1.27,"l":1.21,"h":1.33},{"t":"0.8 μs","s":4,"x":29.3,"y":1.2,"l":1.14,"h":1.26},{"t":"0.8 μs","s":4,"x":29.5,"y":1.15,"l":1.09,"h":1.21},{"t":"0.8 μs","s":4,"x":29.7,"y":1.12,"l":1.06,"h":1.18},{"t":"0.8 μs","s":4,"x":29.9,"y":1.12,"l":1.06,"h":1.18},{"t":"0.8 μs","s":4,"x":30.1,"y":1.15,"l":1.09,"h":1.21},{"t":"0.8 μs","s":4,"x":30.3,"y":1.22,"l":1.16,"h":1.28},{"t":"0.8 μs","s":4,"x":30.5,"y":1.32,"l":1.26,"h":1.38},{"t":"0.8 μs","s":4,"x":30.7,"y":1.48,"l":1.41,"h":1.55},{"t":"0.8 μs","s":4,"x":30.9,"y":1.72,"l":1.64,"h":1.8},
{"t":"0.8 μs","s":5,"x":31.05,"y":1.45,"l":1.38,"h":1.52},{"t":"0.8 μs","s":5,"x":31.3,"y":1.44,"l":1.37,"h":1.51},{"t":"0.8 μs","s":5,"x":31.6,"y":1.42,"l":1.35,"h":1.49},{"t":"0.8 μs","s":5,"x":31.9,"y":1.38,"l":1.31,"h":1.45},{"t":"0.8 μs","s":5,"x":32.2,"y":1.32,"l":1.25,"h":1.39},{"t":"0.8 μs","s":5,"x":32.5,"y":1.22,"l":1.16,"h":1.28},{"t":"0.8 μs","s":5,"x":32.8,"y":1.1,"l":1.05,"h":1.15},{"t":"0.8 μs","s":5,"x":32.97,"y":1.04,"l":0.99,"h":1.09},
{"t":"1.8 μs","s":1,"x":0,"y":1.17,"l":1.12,"h":1.22},{"t":"1.8 μs","s":1,"x":0.3,"y":1.12,"l":1.07,"h":1.17},{"t":"1.8 μs","s":1,"x":0.6,"y":1.1,"l":1.05,"h":1.15},{"t":"1.8 μs","s":1,"x":0.9,"y":1.1,"l":1.05,"h":1.15},{"t":"1.8 μs","s":1,"x":1.2,"y":1.13,"l":1.08,"h":1.18},{"t":"1.8 μs","s":1,"x":1.5,"y":1.17,"l":1.12,"h":1.22},{"t":"1.8 μs","s":1,"x":1.8,"y":1.21,"l":1.16,"h":1.26},{"t":"1.8 μs","s":1,"x":1.92,"y":1.22,"l":1.17,"h":1.27},
{"t":"1.8 μs","s":2,"x":2.1,"y":1.22,"l":1.17,"h":1.27},{"t":"1.8 μs","s":2,"x":2.3,"y":1.15,"l":1.1,"h":1.2},{"t":"1.8 μs","s":2,"x":2.5,"y":1.1,"l":1.05,"h":1.15},{"t":"1.8 μs","s":2,"x":2.7,"y":1.07,"l":1.02,"h":1.12},{"t":"1.8 μs","s":2,"x":2.9,"y":1.05,"l":1.0,"h":1.1},{"t":"1.8 μs","s":2,"x":3.1,"y":1.04,"l":0.99,"h":1.09},{"t":"1.8 μs","s":2,"x":3.3,"y":1.04,"l":0.99,"h":1.09},{"t":"1.8 μs","s":2,"x":3.5,"y":1.04,"l":0.99,"h":1.09},{"t":"1.8 μs","s":2,"x":3.7,"y":1.05,"l":1.0,"h":1.1},{"t":"1.8 μs","s":2,"x":3.9,"y":1.07,"l":1.02,"h":1.12},{"t":"1.8 μs","s":2,"x":4.1,"y":1.1,"l":1.05,"h":1.15},{"t":"1.8 μs","s":2,"x":4.3,"y":1.14,"l":1.09,"h":1.19},{"t":"1.8 μs","s":2,"x":4.5,"y":1.2,"l":1.15,"h":1.25},{"t":"1.8 μs","s":2,"x":4.7,"y":1.28,"l":1.23,"h":1.33},{"t":"1.8 μs","s":2,"x":4.9,"y":1.42,"l":1.36,"h":1.48},
{"t":"1.8 μs","s":3,"x":5.1,"y":1.5,"l":1.42,"h":1.6},{"t":"1.8 μs","s":3,"x":5.5,"y":1.65,"l":1.56,"h":1.75},{"t":"1.8 μs","s":3,"x":6,"y":1.9,"l":1.8,"h":2.0},{"t":"1.8 μs","s":3,"x":6.5,"y":2.25,"l":2.13,"h":2.37},{"t":"1.8 μs","s":3,"x":7,"y":2.65,"l":2.52,"h":2.78},{"t":"1.8 μs","s":3,"x":7.5,"y":2.98,"l":2.84,"h":3.12},{"t":"1.8 μs","s":3,"x":8,"y":3.27,"l":3.12,"h":3.42},{"t":"1.8 μs","s":3,"x":8.5,"y":3.55,"l":3.38,"h":3.71},{"t":"1.8 μs","s":3,"x":9,"y":3.8,"l":3.62,"h":3.97},{"t":"1.8 μs","s":3,"x":9.5,"y":3.97,"l":3.78,"h":4.15},{"t":"1.8 μs","s":3,"x":10,"y":4.1,"l":3.9,"h":4.29},{"t":"1.8 μs","s":3,"x":10.5,"y":4.2,"l":3.99,"h":4.4},{"t":"1.8 μs","s":3,"x":11,"y":4.28,"l":4.06,"h":4.49},{"t":"1.8 μs","s":3,"x":11.5,"y":4.34,"l":4.11,"h":4.55},{"t":"1.8 μs","s":3,"x":12,"y":4.36,"l":4.13,"h":4.57},{"t":"1.8 μs","s":3,"x":13,"y":4.36,"l":4.13,"h":4.57},{"t":"1.8 μs","s":3,"x":14,"y":4.35,"l":4.12,"h":4.56},{"t":"1.8 μs","s":3,"x":15,"y":4.36,"l":4.13,"h":4.57},{"t":"1.8 μs","s":3,"x":16,"y":4.35,"l":4.13,"h":4.57},{"t":"1.8 μs","s":3,"x":17,"y":4.36,"l":4.14,"h":4.58},{"t":"1.8 μs","s":3,"x":18,"y":4.37,"l":4.14,"h":4.58},{"t":"1.8 μs","s":3,"x":19,"y":4.36,"l":4.14,"h":4.57},{"t":"1.8 μs","s":3,"x":20,"y":4.35,"l":4.14,"h":4.57},{"t":"1.8 μs","s":3,"x":20.5,"y":4.36,"l":4.14,"h":4.57},{"t":"1.8 μs","s":3,"x":21,"y":4.35,"l":4.13,"h":4.56},{"t":"1.8 μs","s":3,"x":21.5,"y":4.32,"l":4.1,"h":4.53},{"t":"1.8 μs","s":3,"x":22,"y":4.27,"l":4.05,"h":4.47},{"t":"1.8 μs","s":3,"x":22.5,"y":4.18,"l":3.96,"h":4.39},{"t":"1.8 μs","s":3,"x":23,"y":4.07,"l":3.85,"h":4.28},{"t":"1.8 μs","s":3,"x":23.5,"y":3.92,"l":3.7,"h":4.13},{"t":"1.8 μs","s":3,"x":24,"y":3.72,"l":3.51,"h":3.93},{"t":"1.8 μs","s":3,"x":24.5,"y":3.5,"l":3.3,"h":3.7},{"t":"1.8 μs","s":3,"x":25,"y":3.27,"l":3.07,"h":3.47},{"t":"1.8 μs","s":3,"x":25.5,"y":3.03,"l":2.85,"h":3.22},{"t":"1.8 μs","s":3,"x":26,"y":2.8,"l":2.63,"h":2.97},{"t":"1.8 μs","s":3,"x":26.5,"y":2.52,"l":2.37,"h":2.67},{"t":"1.8 μs","s":3,"x":27,"y":2.24,"l":2.1,"h":2.38},{"t":"1.8 μs","s":3,"x":27.5,"y":1.9,"l":1.78,"h":2.02},{"t":"1.8 μs","s":3,"x":27.9,"y":1.58,"l":1.48,"h":1.7},
{"t":"1.8 μs","s":4,"x":28.05,"y":1.65,"l":1.6,"h":1.7},{"t":"1.8 μs","s":4,"x":28.3,"y":1.45,"l":1.4,"h":1.5},{"t":"1.8 μs","s":4,"x":28.5,"y":1.32,"l":1.28,"h":1.36},{"t":"1.8 μs","s":4,"x":28.7,"y":1.22,"l":1.18,"h":1.26},{"t":"1.8 μs","s":4,"x":28.9,"y":1.12,"l":1.08,"h":1.16},{"t":"1.8 μs","s":4,"x":29.1,"y":1.05,"l":1.01,"h":1.09},{"t":"1.8 μs","s":4,"x":29.3,"y":1.0,"l":0.96,"h":1.04},{"t":"1.8 μs","s":4,"x":29.5,"y":0.96,"l":0.92,"h":1.0},{"t":"1.8 μs","s":4,"x":29.7,"y":0.95,"l":0.91,"h":0.99},{"t":"1.8 μs","s":4,"x":29.9,"y":0.96,"l":0.92,"h":1.0},{"t":"1.8 μs","s":4,"x":30.1,"y":0.99,"l":0.95,"h":1.03},{"t":"1.8 μs","s":4,"x":30.3,"y":1.03,"l":0.99,"h":1.07},{"t":"1.8 μs","s":4,"x":30.5,"y":1.08,"l":1.04,"h":1.12},{"t":"1.8 μs","s":4,"x":30.7,"y":1.13,"l":1.09,"h":1.17},{"t":"1.8 μs","s":4,"x":30.85,"y":1.16,"l":1.12,"h":1.2},
{"t":"1.8 μs","s":5,"x":31.05,"y":1.22,"l":1.17,"h":1.27},{"t":"1.8 μs","s":5,"x":31.2,"y":1.1,"l":1.06,"h":1.14},{"t":"1.8 μs","s":5,"x":31.4,"y":1.0,"l":0.96,"h":1.04},{"t":"1.8 μs","s":5,"x":31.6,"y":0.97,"l":0.93,"h":1.01},{"t":"1.8 μs","s":5,"x":31.9,"y":0.98,"l":0.94,"h":1.02},{"t":"1.8 μs","s":5,"x":32.2,"y":1.0,"l":0.96,"h":1.04},{"t":"1.8 μs","s":5,"x":32.5,"y":1.01,"l":0.97,"h":1.05},{"t":"1.8 μs","s":5,"x":32.8,"y":1.02,"l":0.98,"h":1.06},{"t":"1.8 μs","s":5,"x":32.97,"y":1.02,"l":0.98,"h":1.06},
{"t":"2.7 μs","s":1,"x":0,"y":0.81,"l":0.77,"h":0.85},{"t":"2.7 μs","s":1,"x":0.3,"y":0.8,"l":0.76,"h":0.84},{"t":"2.7 μs","s":1,"x":0.6,"y":0.8,"l":0.76,"h":0.84},{"t":"2.7 μs","s":1,"x":0.9,"y":0.81,"l":0.77,"h":0.85},{"t":"2.7 μs","s":1,"x":1.2,"y":0.85,"l":0.81,"h":0.89},{"t":"2.7 μs","s":1,"x":1.5,"y":0.89,"l":0.85,"h":0.93},{"t":"2.7 μs","s":1,"x":1.8,"y":0.94,"l":0.9,"h":0.98},{"t":"2.7 μs","s":1,"x":1.92,"y":0.95,"l":0.91,"h":0.99},
{"t":"2.7 μs","s":2,"x":2.1,"y":0.95,"l":0.91,"h":0.99},{"t":"2.7 μs","s":2,"x":2.3,"y":0.9,"l":0.86,"h":0.94},{"t":"2.7 μs","s":2,"x":2.5,"y":0.85,"l":0.81,"h":0.89},{"t":"2.7 μs","s":2,"x":2.7,"y":0.81,"l":0.77,"h":0.85},{"t":"2.7 μs","s":2,"x":2.9,"y":0.78,"l":0.74,"h":0.82},{"t":"2.7 μs","s":2,"x":3.1,"y":0.77,"l":0.73,"h":0.81},{"t":"2.7 μs","s":2,"x":3.3,"y":0.76,"l":0.72,"h":0.8},{"t":"2.7 μs","s":2,"x":3.5,"y":0.76,"l":0.72,"h":0.8},{"t":"2.7 μs","s":2,"x":3.7,"y":0.76,"l":0.72,"h":0.8},{"t":"2.7 μs","s":2,"x":3.9,"y":0.77,"l":0.73,"h":0.81},{"t":"2.7 μs","s":2,"x":4.1,"y":0.79,"l":0.75,"h":0.83},{"t":"2.7 μs","s":2,"x":4.3,"y":0.82,"l":0.78,"h":0.86},{"t":"2.7 μs","s":2,"x":4.5,"y":0.86,"l":0.82,"h":0.9},{"t":"2.7 μs","s":2,"x":4.7,"y":0.93,"l":0.89,"h":0.97},{"t":"2.7 μs","s":2,"x":4.9,"y":1.05,"l":1.0,"h":1.1},
{"t":"2.7 μs","s":3,"x":5.1,"y":1.1,"l":1.04,"h":1.16},{"t":"2.7 μs","s":3,"x":5.5,"y":1.25,"l":1.18,"h":1.32},{"t":"2.7 μs","s":3,"x":6,"y":1.44,"l":1.37,"h":1.51},{"t":"2.7 μs","s":3,"x":6.5,"y":1.63,"l":1.55,"h":1.71},{"t":"2.7 μs","s":3,"x":7,"y":1.82,"l":1.74,"h":1.9},{"t":"2.7 μs","s":3,"x":7.5,"y":2.0,"l":1.91,"h":2.09},{"t":"2.7 μs","s":3,"x":8,"y":2.17,"l":2.08,"h":2.27},{"t":"2.7 μs","s":3,"x":8.5,"y":2.34,"l":2.24,"h":2.44},{"t":"2.7 μs","s":3,"x":9,"y":2.5,"l":2.39,"h":2.61},{"t":"2.7 μs","s":3,"x":9.5,"y":2.61,"l":2.5,"h":2.73},{"t":"2.7 μs","s":3,"x":10,"y":2.71,"l":2.59,"h":2.84},{"t":"2.7 μs","s":3,"x":10.5,"y":2.8,"l":2.67,"h":2.93},{"t":"2.7 μs","s":3,"x":11,"y":2.88,"l":2.75,"h":3.02},{"t":"2.7 μs","s":3,"x":11.5,"y":2.94,"l":2.8,"h":3.08},{"t":"2.7 μs","s":3,"x":12,"y":2.97,"l":2.83,"h":3.12},{"t":"2.7 μs","s":3,"x":13,"y":3.0,"l":2.87,"h":3.15},{"t":"2.7 μs","s":3,"x":14,"y":3.02,"l":2.89,"h":3.17},{"t":"2.7 μs","s":3,"x":15,"y":3.03,"l":2.9,"h":3.18},{"t":"2.7 μs","s":3,"x":16,"y":3.04,"l":2.9,"h":3.18},{"t":"2.7 μs","s":3,"x":17,"y":3.04,"l":2.9,"h":3.19},{"t":"2.7 μs","s":3,"x":18,"y":3.04,"l":2.9,"h":3.18},{"t":"2.7 μs","s":3,"x":19,"y":3.03,"l":2.89,"h":3.17},{"t":"2.7 μs","s":3,"x":20,"y":3.02,"l":2.88,"h":3.16},{"t":"2.7 μs","s":3,"x":20.5,"y":3.0,"l":2.86,"h":3.14},{"t":"2.7 μs","s":3,"x":21,"y":2.97,"l":2.83,"h":3.11},{"t":"2.7 μs","s":3,"x":21.5,"y":2.92,"l":2.78,"h":3.06},{"t":"2.7 μs","s":3,"x":22,"y":2.85,"l":2.71,"h":2.99},{"t":"2.7 μs","s":3,"x":22.5,"y":2.72,"l":2.59,"h":2.86},{"t":"2.7 μs","s":3,"x":23,"y":2.57,"l":2.44,"h":2.7},{"t":"2.7 μs","s":3,"x":23.5,"y":2.43,"l":2.3,"h":2.56},{"t":"2.7 μs","s":3,"x":24,"y":2.29,"l":2.17,"h":2.41},{"t":"2.7 μs","s":3,"x":24.5,"y":2.13,"l":2.02,"h":2.24},{"t":"2.7 μs","s":3,"x":25,"y":1.96,"l":1.86,"h":2.06},{"t":"2.7 μs","s":3,"x":25.5,"y":1.78,"l":1.69,"h":1.87},{"t":"2.7 μs","s":3,"x":26,"y":1.61,"l":1.53,"h":1.69},{"t":"2.7 μs","s":3,"x":26.5,"y":1.45,"l":1.38,"h":1.52},{"t":"2.7 μs","s":3,"x":27,"y":1.3,"l":1.24,"h":1.36},{"t":"2.7 μs","s":3,"x":27.5,"y":1.17,"l":1.12,"h":1.22},{"t":"2.7 μs","s":3,"x":27.9,"y":1.07,"l":1.02,"h":1.12},
{"t":"2.7 μs","s":4,"x":28.05,"y":1.03,"l":0.99,"h":1.07},{"t":"2.7 μs","s":4,"x":28.3,"y":0.85,"l":0.81,"h":0.89},{"t":"2.7 μs","s":4,"x":28.5,"y":0.77,"l":0.74,"h":0.8},{"t":"2.7 μs","s":4,"x":28.7,"y":0.74,"l":0.71,"h":0.77},{"t":"2.7 μs","s":4,"x":28.9,"y":0.71,"l":0.68,"h":0.74},{"t":"2.7 μs","s":4,"x":29.1,"y":0.69,"l":0.66,"h":0.72},{"t":"2.7 μs","s":4,"x":29.3,"y":0.68,"l":0.65,"h":0.71},{"t":"2.7 μs","s":4,"x":29.5,"y":0.68,"l":0.65,"h":0.71},{"t":"2.7 μs","s":4,"x":29.7,"y":0.69,"l":0.66,"h":0.72},{"t":"2.7 μs","s":4,"x":29.9,"y":0.7,"l":0.67,"h":0.73},{"t":"2.7 μs","s":4,"x":30.1,"y":0.72,"l":0.69,"h":0.75},{"t":"2.7 μs","s":4,"x":30.3,"y":0.75,"l":0.72,"h":0.78},{"t":"2.7 μs","s":4,"x":30.5,"y":0.79,"l":0.76,"h":0.82},{"t":"2.7 μs","s":4,"x":30.7,"y":0.83,"l":0.8,"h":0.86},{"t":"2.7 μs","s":4,"x":30.85,"y":0.87,"l":0.84,"h":0.9},
{"t":"2.7 μs","s":5,"x":31.05,"y":0.86,"l":0.83,"h":0.89},{"t":"2.7 μs","s":5,"x":31.3,"y":0.83,"l":0.8,"h":0.86},{"t":"2.7 μs","s":5,"x":31.6,"y":0.81,"l":0.78,"h":0.84},{"t":"2.7 μs","s":5,"x":31.9,"y":0.79,"l":0.76,"h":0.82},{"t":"2.7 μs","s":5,"x":32.2,"y":0.77,"l":0.74,"h":0.8},{"t":"2.7 μs","s":5,"x":32.5,"y":0.76,"l":0.73,"h":0.79},{"t":"2.7 μs","s":5,"x":32.8,"y":0.75,"l":0.72,"h":0.78},{"t":"2.7 μs","s":5,"x":32.97,"y":0.75,"l":0.72,"h":0.78},
{"t":"3.5 μs","s":1,"x":0,"y":0.65,"l":0.62,"h":0.68},{"t":"3.5 μs","s":1,"x":0.3,"y":0.68,"l":0.65,"h":0.71},{"t":"3.5 μs","s":1,"x":0.6,"y":0.7,"l":0.67,"h":0.73},{"t":"3.5 μs","s":1,"x":0.9,"y":0.7,"l":0.67,"h":0.73},{"t":"3.5 μs","s":1,"x":1.2,"y":0.69,"l":0.66,"h":0.72},{"t":"3.5 μs","s":1,"x":1.5,"y":0.68,"l":0.65,"h":0.71},{"t":"3.5 μs","s":1,"x":1.8,"y":0.68,"l":0.65,"h":0.71},{"t":"3.5 μs","s":1,"x":1.92,"y":0.67,"l":0.64,"h":0.7},
{"t":"3.5 μs","s":2,"x":2.1,"y":0.7,"l":0.67,"h":0.73},{"t":"3.5 μs","s":2,"x":2.4,"y":0.66,"l":0.63,"h":0.69},{"t":"3.5 μs","s":2,"x":2.7,"y":0.63,"l":0.6,"h":0.66},{"t":"3.5 μs","s":2,"x":3.0,"y":0.6,"l":0.57,"h":0.63},{"t":"3.5 μs","s":2,"x":3.3,"y":0.58,"l":0.55,"h":0.61},{"t":"3.5 μs","s":2,"x":3.6,"y":0.57,"l":0.54,"h":0.6},{"t":"3.5 μs","s":2,"x":3.9,"y":0.58,"l":0.55,"h":0.61},{"t":"3.5 μs","s":2,"x":4.2,"y":0.61,"l":0.58,"h":0.64},{"t":"3.5 μs","s":2,"x":4.5,"y":0.66,"l":0.63,"h":0.69},{"t":"3.5 μs","s":2,"x":4.7,"y":0.7,"l":0.67,"h":0.73},{"t":"3.5 μs","s":2,"x":4.95,"y":0.78,"l":0.75,"h":0.81},
{"t":"3.5 μs","s":3,"x":5.2,"y":0.81,"l":0.77,"h":0.85},{"t":"3.5 μs","s":3,"x":5.5,"y":0.85,"l":0.81,"h":0.89},{"t":"3.5 μs","s":3,"x":6,"y":0.92,"l":0.88,"h":0.97},{"t":"3.5 μs","s":3,"x":6.5,"y":1.0,"l":0.95,"h":1.05},{"t":"3.5 μs","s":3,"x":7,"y":1.09,"l":1.04,"h":1.14},{"t":"3.5 μs","s":3,"x":7.5,"y":1.16,"l":1.11,"h":1.21},{"t":"3.5 μs","s":3,"x":8,"y":1.23,"l":1.17,"h":1.29},{"t":"3.5 μs","s":3,"x":8.5,"y":1.31,"l":1.25,"h":1.37},{"t":"3.5 μs","s":3,"x":9,"y":1.38,"l":1.32,"h":1.44},{"t":"3.5 μs","s":3,"x":9.5,"y":1.45,"l":1.39,"h":1.51},{"t":"3.5 μs","s":3,"x":10,"y":1.51,"l":1.45,"h":1.58},{"t":"3.5 μs","s":3,"x":10.5,"y":1.57,"l":1.5,"h":1.64},{"t":"3.5 μs","s":3,"x":11,"y":1.63,"l":1.56,"h":1.7},{"t":"3.5 μs","s":3,"x":11.5,"y":1.7,"l":1.63,"h":1.77},{"t":"3.5 μs","s":3,"x":12,"y":1.77,"l":1.7,"h":1.85},{"t":"3.5 μs","s":3,"x":12.5,"y":1.84,"l":1.77,"h":1.92},{"t":"3.5 μs","s":3,"x":13,"y":1.91,"l":1.84,"h":1.99},{"t":"3.5 μs","s":3,"x":13.5,"y":1.96,"l":1.89,"h":2.04},{"t":"3.5 μs","s":3,"x":14,"y":1.99,"l":1.92,"h":2.07},{"t":"3.5 μs","s":3,"x":14.5,"y":2.02,"l":1.95,"h":2.1},{"t":"3.5 μs","s":3,"x":15,"y":2.03,"l":1.96,"h":2.11},{"t":"3.5 μs","s":3,"x":16,"y":2.05,"l":1.98,"h":2.13},{"t":"3.5 μs","s":3,"x":17,"y":2.06,"l":1.99,"h":2.14},{"t":"3.5 μs","s":3,"x":18,"y":2.05,"l":1.98,"h":2.13},{"t":"3.5 μs","s":3,"x":19,"y":2.05,"l":1.98,"h":2.13},{"t":"3.5 μs","s":3,"x":20,"y":2.03,"l":1.96,"h":2.11},{"t":"3.5 μs","s":3,"x":20.5,"y":2.0,"l":1.93,"h":2.08},{"t":"3.5 μs","s":3,"x":21,"y":1.96,"l":1.89,"h":2.04},{"t":"3.5 μs","s":3,"x":21.5,"y":1.88,"l":1.81,"h":1.96},{"t":"3.5 μs","s":3,"x":22,"y":1.77,"l":1.7,"h":1.85},{"t":"3.5 μs","s":3,"x":22.5,"y":1.67,"l":1.6,"h":1.74},{"t":"3.5 μs","s":3,"x":23,"y":1.56,"l":1.49,"h":1.63},{"t":"3.5 μs","s":3,"x":23.5,"y":1.47,"l":1.41,"h":1.54},{"t":"3.5 μs","s":3,"x":24,"y":1.39,"l":1.33,"h":1.45},{"t":"3.5 μs","s":3,"x":24.5,"y":1.3,"l":1.24,"h":1.36},{"t":"3.5 μs","s":3,"x":25,"y":1.21,"l":1.15,"h":1.27},{"t":"3.5 μs","s":3,"x":25.5,"y":1.12,"l":1.07,"h":1.18},{"t":"3.5 μs","s":3,"x":26,"y":1.04,"l":0.99,"h":1.09},{"t":"3.5 μs","s":3,"x":26.5,"y":0.96,"l":0.92,"h":1.01},{"t":"3.5 μs","s":3,"x":27,"y":0.88,"l":0.84,"h":0.92},{"t":"3.5 μs","s":3,"x":27.5,"y":0.81,"l":0.77,"h":0.85},{"t":"3.5 μs","s":3,"x":27.9,"y":0.76,"l":0.73,"h":0.8},
{"t":"3.5 μs","s":4,"x":28.05,"y":0.74,"l":0.71,"h":0.77},{"t":"3.5 μs","s":4,"x":28.4,"y":0.7,"l":0.67,"h":0.73},{"t":"3.5 μs","s":4,"x":28.7,"y":0.66,"l":0.63,"h":0.69},{"t":"3.5 μs","s":4,"x":29.0,"y":0.63,"l":0.6,"h":0.66},{"t":"3.5 μs","s":4,"x":29.3,"y":0.61,"l":0.58,"h":0.64},{"t":"3.5 μs","s":4,"x":29.6,"y":0.6,"l":0.57,"h":0.63},{"t":"3.5 μs","s":4,"x":29.9,"y":0.61,"l":0.58,"h":0.64},{"t":"3.5 μs","s":4,"x":30.2,"y":0.62,"l":0.59,"h":0.65},{"t":"3.5 μs","s":4,"x":30.5,"y":0.64,"l":0.61,"h":0.67},{"t":"3.5 μs","s":4,"x":30.8,"y":0.66,"l":0.63,"h":0.69},
{"t":"3.5 μs","s":5,"x":31.05,"y":0.72,"l":0.69,"h":0.75},{"t":"3.5 μs","s":5,"x":31.3,"y":0.69,"l":0.66,"h":0.72},{"t":"3.5 μs","s":5,"x":31.6,"y":0.67,"l":0.64,"h":0.7},{"t":"3.5 μs","s":5,"x":31.9,"y":0.65,"l":0.62,"h":0.68},{"t":"3.5 μs","s":5,"x":32.2,"y":0.63,"l":0.6,"h":0.66},{"t":"3.5 μs","s":5,"x":32.5,"y":0.62,"l":0.59,"h":0.65},{"t":"3.5 μs","s":5,"x":32.8,"y":0.62,"l":0.59,"h":0.65},{"t":"3.5 μs","s":5,"x":32.97,"y":0.63,"l":0.6,"h":0.66},
{"t":"4.4 μs","s":1,"x":0,"y":0.38,"l":0.36,"h":0.4},{"t":"4.4 μs","s":1,"x":0.3,"y":0.37,"l":0.35,"h":0.39},{"t":"4.4 μs","s":1,"x":0.6,"y":0.36,"l":0.34,"h":0.38},{"t":"4.4 μs","s":1,"x":0.9,"y":0.36,"l":0.34,"h":0.38},{"t":"4.4 μs","s":1,"x":1.2,"y":0.36,"l":0.34,"h":0.38},{"t":"4.4 μs","s":1,"x":1.5,"y":0.35,"l":0.33,"h":0.37},{"t":"4.4 μs","s":1,"x":1.8,"y":0.35,"l":0.33,"h":0.37},{"t":"4.4 μs","s":1,"x":1.92,"y":0.34,"l":0.32,"h":0.36},
{"t":"4.4 μs","s":2,"x":2.1,"y":0.39,"l":0.37,"h":0.41},{"t":"4.4 μs","s":2,"x":2.4,"y":0.39,"l":0.37,"h":0.41},{"t":"4.4 μs","s":2,"x":2.7,"y":0.39,"l":0.37,"h":0.41},{"t":"4.4 μs","s":2,"x":3.0,"y":0.4,"l":0.38,"h":0.42},{"t":"4.4 μs","s":2,"x":3.3,"y":0.4,"l":0.38,"h":0.42},{"t":"4.4 μs","s":2,"x":3.6,"y":0.41,"l":0.39,"h":0.43},{"t":"4.4 μs","s":2,"x":3.9,"y":0.42,"l":0.4,"h":0.44},{"t":"4.4 μs","s":2,"x":4.2,"y":0.44,"l":0.42,"h":0.46},{"t":"4.4 μs","s":2,"x":4.5,"y":0.47,"l":0.45,"h":0.49},{"t":"4.4 μs","s":2,"x":4.7,"y":0.5,"l":0.48,"h":0.52},{"t":"4.4 μs","s":2,"x":4.95,"y":0.55,"l":0.53,"h":0.57},
{"t":"4.4 μs","s":3,"x":5.1,"y":0.59,"l":0.56,"h":0.62},{"t":"4.4 μs","s":3,"x":5.5,"y":0.61,"l":0.58,"h":0.64},{"t":"4.4 μs","s":3,"x":6,"y":0.64,"l":0.61,"h":0.68},{"t":"4.4 μs","s":3,"x":6.5,"y":0.67,"l":0.64,"h":0.71},{"t":"4.4 μs","s":3,"x":7,"y":0.7,"l":0.67,"h":0.74},{"t":"4.4 μs","s":3,"x":7.5,"y":0.74,"l":0.7,"h":0.78},{"t":"4.4 μs","s":3,"x":8,"y":0.78,"l":0.74,"h":0.82},{"t":"4.4 μs","s":3,"x":8.5,"y":0.83,"l":0.79,"h":0.87},{"t":"4.4 μs","s":3,"x":9,"y":0.88,"l":0.84,"h":0.92},{"t":"4.4 μs","s":3,"x":9.5,"y":0.94,"l":0.9,"h":0.98},{"t":"4.4 μs","s":3,"x":10,"y":1.0,"l":0.96,"h":1.04},{"t":"4.4 μs","s":3,"x":10.5,"y":1.04,"l":1.0,"h":1.09},{"t":"4.4 μs","s":3,"x":11,"y":1.08,"l":1.04,"h":1.13},{"t":"4.4 μs","s":3,"x":11.5,"y":1.12,"l":1.08,"h":1.17},{"t":"4.4 μs","s":3,"x":12,"y":1.16,"l":1.12,"h":1.21},{"t":"4.4 μs","s":3,"x":12.5,"y":1.2,"l":1.16,"h":1.25},{"t":"4.4 μs","s":3,"x":13,"y":1.23,"l":1.19,"h":1.28},{"t":"4.4 μs","s":3,"x":13.5,"y":1.26,"l":1.22,"h":1.31},{"t":"4.4 μs","s":3,"x":14,"y":1.28,"l":1.24,"h":1.33},{"t":"4.4 μs","s":3,"x":14.5,"y":1.3,"l":1.26,"h":1.35},{"t":"4.4 μs","s":3,"x":15,"y":1.31,"l":1.27,"h":1.36},{"t":"4.4 μs","s":3,"x":15.5,"y":1.33,"l":1.28,"h":1.38},{"t":"4.4 μs","s":3,"x":16,"y":1.34,"l":1.29,"h":1.39},{"t":"4.4 μs","s":3,"x":16.5,"y":1.34,"l":1.29,"h":1.39},{"t":"4.4 μs","s":3,"x":17,"y":1.35,"l":1.3,"h":1.4},{"t":"4.4 μs","s":3,"x":17.5,"y":1.34,"l":1.29,"h":1.39},{"t":"4.4 μs","s":3,"x":18,"y":1.33,"l":1.28,"h":1.38},{"t":"4.4 μs","s":3,"x":18.5,"y":1.31,"l":1.27,"h":1.36},{"t":"4.4 μs","s":3,"x":19,"y":1.29,"l":1.25,"h":1.34},{"t":"4.4 μs","s":3,"x":19.5,"y":1.26,"l":1.22,"h":1.31},{"t":"4.4 μs","s":3,"x":20,"y":1.23,"l":1.19,"h":1.28},{"t":"4.4 μs","s":3,"x":20.5,"y":1.19,"l":1.15,"h":1.24},{"t":"4.4 μs","s":3,"x":21,"y":1.14,"l":1.1,"h":1.19},{"t":"4.4 μs","s":3,"x":21.5,"y":1.08,"l":1.04,"h":1.13},{"t":"4.4 μs","s":3,"x":22,"y":1.02,"l":0.98,"h":1.07},{"t":"4.4 μs","s":3,"x":22.5,"y":0.96,"l":0.92,"h":1.0},{"t":"4.4 μs","s":3,"x":23,"y":0.91,"l":0.87,"h":0.95},{"t":"4.4 μs","s":3,"x":23.5,"y":0.86,"l":0.82,"h":0.9},{"t":"4.4 μs","s":3,"x":24,"y":0.81,"l":0.77,"h":0.85},{"t":"4.4 μs","s":3,"x":24.5,"y":0.76,"l":0.72,"h":0.8},{"t":"4.4 μs","s":3,"x":25,"y":0.72,"l":0.69,"h":0.76},{"t":"4.4 μs","s":3,"x":25.5,"y":0.68,"l":0.65,"h":0.72},{"t":"4.4 μs","s":3,"x":26,"y":0.65,"l":0.62,"h":0.68},{"t":"4.4 μs","s":3,"x":26.5,"y":0.62,"l":0.59,"h":0.65},{"t":"4.4 μs","s":3,"x":27,"y":0.6,"l":0.57,"h":0.63},{"t":"4.4 μs","s":3,"x":27.5,"y":0.58,"l":0.55,"h":0.61},{"t":"4.4 μs","s":3,"x":27.9,"y":0.57,"l":0.54,"h":0.6},
{"t":"4.4 μs","s":4,"x":28.05,"y":0.55,"l":0.53,"h":0.57},{"t":"4.4 μs","s":4,"x":28.3,"y":0.5,"l":0.48,"h":0.52},{"t":"4.4 μs","s":4,"x":28.6,"y":0.46,"l":0.44,"h":0.48},{"t":"4.4 μs","s":4,"x":28.9,"y":0.42,"l":0.4,"h":0.44},{"t":"4.4 μs","s":4,"x":29.2,"y":0.4,"l":0.38,"h":0.42},{"t":"4.4 μs","s":4,"x":29.5,"y":0.38,"l":0.36,"h":0.4},{"t":"4.4 μs","s":4,"x":29.8,"y":0.38,"l":0.36,"h":0.4},{"t":"4.4 μs","s":4,"x":30.1,"y":0.39,"l":0.37,"h":0.41},{"t":"4.4 μs","s":4,"x":30.4,"y":0.41,"l":0.39,"h":0.43},{"t":"4.4 μs","s":4,"x":30.7,"y":0.43,"l":0.41,"h":0.45},
{"t":"4.4 μs","s":5,"x":31.1,"y":0.42,"l":0.4,"h":0.44},{"t":"4.4 μs","s":5,"x":31.3,"y":0.38,"l":0.36,"h":0.4},{"t":"4.4 μs","s":5,"x":31.6,"y":0.36,"l":0.34,"h":0.38},{"t":"4.4 μs","s":5,"x":31.9,"y":0.37,"l":0.35,"h":0.39},{"t":"4.4 μs","s":5,"x":32.2,"y":0.39,"l":0.37,"h":0.41},{"t":"4.4 μs","s":5,"x":32.5,"y":0.4,"l":0.38,"h":0.42},{"t":"4.4 μs","s":5,"x":32.8,"y":0.39,"l":0.37,"h":0.41},{"t":"4.4 μs","s":5,"x":32.97,"y":0.39,"l":0.37,"h":0.41}
],
"db":[
{"t":"0.8 μs","s":"L","x":2.1,"y":1.65},{"t":"0.8 μs","s":"L","x":4.85,"y":3.06},{"t":"0.8 μs","s":"R","x":28.15,"y":2.55},{"t":"0.8 μs","s":"R","x":30.7,"y":1.6},
{"t":"1.8 μs","s":"L","x":2.0,"y":1.31},{"t":"1.8 μs","s":"L","x":4.75,"y":1.51},{"t":"1.8 μs","s":"R","x":28.15,"y":1.63},{"t":"1.8 μs","s":"R","x":30.8,"y":1.18},
{"t":"2.7 μs","s":"L","x":2.0,"y":0.95},{"t":"2.7 μs","s":"L","x":4.7,"y":1.07},{"t":"2.7 μs","s":"R","x":28.1,"y":1.04},{"t":"2.7 μs","s":"R","x":30.8,"y":0.76},
{"t":"3.5 μs","s":"L","x":2.0,"y":0.68},{"t":"3.5 μs","s":"L","x":4.8,"y":0.79},{"t":"3.5 μs","s":"R","x":28.1,"y":0.75},{"t":"3.5 μs","s":"R","x":30.8,"y":0.72},
{"t":"4.4 μs","s":"L","x":2.0,"y":0.36},{"t":"4.4 μs","s":"L","x":4.8,"y":0.58},{"t":"4.4 μs","s":"R","x":28.1,"y":0.56},{"t":"4.4 μs","s":"R","x":30.5,"y":0.45}
],
"pb":[
{"t":"0.8 μs","x":5.4,"y":3.4},{"t":"0.8 μs","x":5.7,"y":3.9},{"t":"0.8 μs","x":6.1,"y":4.7},{"t":"0.8 μs","x":6.4,"y":4.6},{"t":"0.8 μs","x":6.8,"y":5.3},{"t":"0.8 μs","x":7.2,"y":5.2},{"t":"0.8 μs","x":7.6,"y":5.8},{"t":"0.8 μs","x":8.0,"y":5.7},{"t":"0.8 μs","x":8.3,"y":6.3},{"t":"0.8 μs","x":8.7,"y":6.1},{"t":"0.8 μs","x":9.0,"y":6.7},{"t":"0.8 μs","x":9.3,"y":6.3},{"t":"0.8 μs","x":9.6,"y":6.6},{"t":"0.8 μs","x":9.9,"y":6.2},{"t":"0.8 μs","x":10.2,"y":6.7},{"t":"0.8 μs","x":10.5,"y":6.4},{"t":"0.8 μs","x":10.8,"y":6.8},{"t":"0.8 μs","x":11.1,"y":6.3},{"t":"0.8 μs","x":11.4,"y":6.6},{"t":"0.8 μs","x":11.7,"y":6.2},{"t":"0.8 μs","x":12.0,"y":6.5},{"t":"0.8 μs","x":12.3,"y":6.8},{"t":"0.8 μs","x":12.6,"y":6.4},{"t":"0.8 μs","x":12.9,"y":6.7},{"t":"0.8 μs","x":13.2,"y":6.25},{"t":"0.8 μs","x":13.5,"y":6.6},{"t":"0.8 μs","x":13.8,"y":6.35},{"t":"0.8 μs","x":14.1,"y":6.8},{"t":"0.8 μs","x":14.4,"y":6.45},{"t":"0.8 μs","x":14.7,"y":6.2},{"t":"0.8 μs","x":15.0,"y":6.7},{"t":"0.8 μs","x":15.3,"y":6.35},{"t":"0.8 μs","x":15.6,"y":6.6},{"t":"0.8 μs","x":15.9,"y":6.25},{"t":"0.8 μs","x":16.2,"y":6.75},{"t":"0.8 μs","x":16.5,"y":6.4},{"t":"0.8 μs","x":16.8,"y":6.6},{"t":"0.8 μs","x":17.1,"y":6.2},{"t":"0.8 μs","x":17.4,"y":6.55},{"t":"0.8 μs","x":17.7,"y":6.85},{"t":"0.8 μs","x":18.0,"y":6.3},{"t":"0.8 μs","x":18.3,"y":6.6},{"t":"0.8 μs","x":18.6,"y":6.4},{"t":"0.8 μs","x":18.9,"y":6.75},{"t":"0.8 μs","x":19.2,"y":6.25},{"t":"0.8 μs","x":19.5,"y":6.55},{"t":"0.8 μs","x":19.8,"y":6.35},{"t":"0.8 μs","x":20.1,"y":6.7},{"t":"0.8 μs","x":20.4,"y":6.2},{"t":"0.8 μs","x":20.7,"y":6.6},{"t":"0.8 μs","x":21.0,"y":6.4},{"t":"0.8 μs","x":21.3,"y":6.8},{"t":"0.8 μs","x":21.6,"y":6.3},{"t":"0.8 μs","x":21.9,"y":6.55},{"t":"0.8 μs","x":22.2,"y":6.25},{"t":"0.8 μs","x":22.5,"y":6.7},{"t":"0.8 μs","x":22.8,"y":6.4},{"t":"0.8 μs","x":23.1,"y":6.6},{"t":"0.8 μs","x":23.4,"y":6.2},{"t":"0.8 μs","x":23.7,"y":6.5},{"t":"0.8 μs","x":24.0,"y":6.75},{"t":"0.8 μs","x":24.3,"y":6.3},{"t":"0.8 μs","x":24.6,"y":6.55},{"t":"0.8 μs","x":24.9,"y":6.15},{"t":"0.8 μs","x":25.2,"y":6.5},{"t":"0.8 μs","x":25.5,"y":6.0},{"t":"0.8 μs","x":25.8,"y":6.2},{"t":"0.8 μs","x":26.1,"y":5.8},{"t":"0.8 μs","x":26.4,"y":5.5},{"t":"0.8 μs","x":26.7,"y":5.3},{"t":"0.8 μs","x":27.0,"y":4.6},{"t":"0.8 μs","x":27.3,"y":4.1},{"t":"0.8 μs","x":27.6,"y":3.2},{"t":"0.8 μs","x":27.8,"y":2.6},{"t":"0.8 μs","x":9.0,"y":6.9},{"t":"0.8 μs","x":14.0,"y":6.95},{"t":"0.8 μs","x":22.0,"y":6.92},{"t":"0.8 μs","x":16.0,"y":6.05},{"t":"0.8 μs","x":12.0,"y":6.0},{"t":"0.8 μs","x":0.5,"y":1.5},{"t":"0.8 μs","x":1.5,"y":1.68},{"t":"0.8 μs","x":3.5,"y":1.18},{"t":"0.8 μs","x":4.8,"y":2.3},{"t":"0.8 μs","x":5.1,"y":3.2},{"t":"0.8 μs","x":29.8,"y":1.1},{"t":"0.8 μs","x":31.5,"y":1.5},{"t":"0.8 μs","x":32.4,"y":1.3},
{"t":"1.8 μs","x":5.3,"y":1.55},{"t":"1.8 μs","x":5.7,"y":1.8},{"t":"1.8 μs","x":6.1,"y":1.85},{"t":"1.8 μs","x":6.5,"y":2.35},{"t":"1.8 μs","x":6.9,"y":2.5},{"t":"1.8 μs","x":7.3,"y":2.95},{"t":"1.8 μs","x":7.7,"y":3.0},{"t":"1.8 μs","x":8.1,"y":3.4},{"t":"1.8 μs","x":8.5,"y":3.45},{"t":"1.8 μs","x":8.9,"y":3.9},{"t":"1.8 μs","x":9.3,"y":3.8},{"t":"1.8 μs","x":9.7,"y":4.15},{"t":"1.8 μs","x":10.1,"y":4.0},{"t":"1.8 μs","x":10.5,"y":4.35},{"t":"1.8 μs","x":10.9,"y":4.15},{"t":"1.8 μs","x":11.3,"y":4.5},{"t":"1.8 μs","x":11.7,"y":4.2},{"t":"1.8 μs","x":12.1,"y":4.55},{"t":"1.8 μs","x":12.5,"y":4.3},{"t":"1.8 μs","x":12.9,"y":4.15},{"t":"1.8 μs","x":13.3,"y":4.5},{"t":"1.8 μs","x":13.7,"y":4.25},{"t":"1.8 μs","x":14.1,"y":4.6},{"t":"1.8 μs","x":14.5,"y":4.3},{"t":"1.8 μs","x":14.9,"y":4.15},{"t":"1.8 μs","x":15.3,"y":4.5},{"t":"1.8 μs","x":15.7,"y":4.35},{"t":"1.8 μs","x":16.1,"y":4.55},{"t":"1.8 μs","x":16.5,"y":4.2},{"t":"1.8 μs","x":16.9,"y":4.45},{"t":"1.8 μs","x":17.3,"y":4.3},{"t":"1.8 μs","x":17.7,"y":4.6},{"t":"1.8 μs","x":18.1,"y":4.2},{"t":"1.8 μs","x":18.5,"y":4.45},{"t":"1.8 μs","x":18.9,"y":4.3},{"t":"1.8 μs","x":19.3,"y":4.55},{"t":"1.8 μs","x":19.7,"y":4.15},{"t":"1.8 μs","x":20.1,"y":4.4},{"t":"1.8 μs","x":20.5,"y":4.25},{"t":"1.8 μs","x":20.9,"y":4.5},{"t":"1.8 μs","x":21.3,"y":4.2},{"t":"1.8 μs","x":21.7,"y":4.4},{"t":"1.8 μs","x":22.1,"y":4.1},{"t":"1.8 μs","x":22.5,"y":4.3},{"t":"1.8 μs","x":22.9,"y":3.95},{"t":"1.8 μs","x":23.3,"y":4.1},{"t":"1.8 μs","x":23.7,"y":3.65},{"t":"1.8 μs","x":24.1,"y":3.8},{"t":"1.8 μs","x":24.5,"y":3.35},{"t":"1.8 μs","x":24.9,"y":3.4},{"t":"1.8 μs","x":25.3,"y":3.0},{"t":"1.8 μs","x":25.7,"y":3.05},{"t":"1.8 μs","x":26.1,"y":2.65},{"t":"1.8 μs","x":26.5,"y":2.6},{"t":"1.8 μs","x":26.9,"y":2.2},{"t":"1.8 μs","x":27.3,"y":2.1},{"t":"1.8 μs","x":27.7,"y":1.7},{"t":"1.8 μs","x":11.5,"y":4.62},{"t":"1.8 μs","x":14.0,"y":4.0},{"t":"1.8 μs","x":0.4,"y":1.1},{"t":"1.8 μs","x":1.4,"y":1.2},{"t":"1.8 μs","x":3.0,"y":1.02},{"t":"1.8 μs","x":4.5,"y":1.2},{"t":"1.8 μs","x":29.5,"y":0.93},{"t":"1.8 μs","x":31.6,"y":0.98},{"t":"1.8 μs","x":32.5,"y":1.03},
{"t":"2.7 μs","x":5.3,"y":1.2},{"t":"2.7 μs","x":5.8,"y":1.32},{"t":"2.7 μs","x":6.3,"y":1.6},{"t":"2.7 μs","x":6.8,"y":1.7},{"t":"2.7 μs","x":7.3,"y":1.98},{"t":"2.7 μs","x":7.8,"y":2.05},{"t":"2.7 μs","x":8.3,"y":2.32},{"t":"2.7 μs","x":8.8,"y":2.38},{"t":"2.7 μs","x":9.3,"y":2.62},{"t":"2.7 μs","x":9.8,"y":2.6},{"t":"2.7 μs","x":10.3,"y":2.85},{"t":"2.7 μs","x":10.8,"y":2.78},{"t":"2.7 μs","x":11.3,"y":3.05},{"t":"2.7 μs","x":11.8,"y":2.88},{"t":"2.7 μs","x":12.3,"y":3.15},{"t":"2.7 μs","x":12.8,"y":2.92},{"t":"2.7 μs","x":13.3,"y":3.12},{"t":"2.7 μs","x":13.8,"y":2.9},{"t":"2.7 μs","x":14.3,"y":3.18},{"t":"2.7 μs","x":14.8,"y":2.95},{"t":"2.7 μs","x":15.3,"y":3.1},{"t":"2.7 μs","x":15.8,"y":2.92},{"t":"2.7 μs","x":16.3,"y":3.16},{"t":"2.7 μs","x":16.8,"y":2.95},{"t":"2.7 μs","x":17.3,"y":3.12},{"t":"2.7 μs","x":17.8,"y":2.9},{"t":"2.7 μs","x":18.3,"y":3.17},{"t":"2.7 μs","x":18.8,"y":2.93},{"t":"2.7 μs","x":19.3,"y":3.1},{"t":"2.7 μs","x":19.8,"y":2.92},{"t":"2.7 μs","x":20.3,"y":3.08},{"t":"2.7 μs","x":20.8,"y":2.88},{"t":"2.7 μs","x":21.3,"y":2.98},{"t":"2.7 μs","x":21.8,"y":2.78},{"t":"2.7 μs","x":22.3,"y":2.82},{"t":"2.7 μs","x":22.8,"y":2.55},{"t":"2.7 μs","x":23.3,"y":2.55},{"t":"2.7 μs","x":23.8,"y":2.3},{"t":"2.7 μs","x":24.3,"y":2.27},{"t":"2.7 μs","x":24.8,"y":1.95},{"t":"2.7 μs","x":25.3,"y":1.9},{"t":"2.7 μs","x":25.8,"y":1.6},{"t":"2.7 μs","x":26.3,"y":1.58},{"t":"2.7 μs","x":26.8,"y":1.32},{"t":"2.7 μs","x":27.3,"y":1.28},{"t":"2.7 μs","x":27.8,"y":1.05},{"t":"2.7 μs","x":0.5,"y":0.82},{"t":"2.7 μs","x":1.5,"y":0.9},{"t":"2.7 μs","x":3.2,"y":0.74},{"t":"2.7 μs","x":4.4,"y":0.85},{"t":"2.7 μs","x":29.3,"y":0.66},{"t":"2.7 μs","x":31.5,"y":0.83},{"t":"2.7 μs","x":32.5,"y":0.74},
{"t":"3.5 μs","x":5.4,"y":0.86},{"t":"3.5 μs","x":5.9,"y":0.88},{"t":"3.5 μs","x":6.4,"y":1.02},{"t":"3.5 μs","x":6.9,"y":1.05},{"t":"3.5 μs","x":7.4,"y":1.2},{"t":"3.5 μs","x":7.9,"y":1.2},{"t":"3.5 μs","x":8.4,"y":1.35},{"t":"3.5 μs","x":8.9,"y":1.35},{"t":"3.5 μs","x":9.4,"y":1.5},{"t":"3.5 μs","x":9.9,"y":1.48},{"t":"3.5 μs","x":10.4,"y":1.62},{"t":"3.5 μs","x":10.9,"y":1.6},{"t":"3.5 μs","x":11.4,"y":1.76},{"t":"3.5 μs","x":11.9,"y":1.72},{"t":"3.5 μs","x":12.4,"y":1.9},{"t":"3.5 μs","x":12.9,"y":1.86},{"t":"3.5 μs","x":13.4,"y":2.05},{"t":"3.5 μs","x":13.9,"y":1.95},{"t":"3.5 μs","x":14.4,"y":2.1},{"t":"3.5 μs","x":14.9,"y":1.97},{"t":"3.5 μs","x":15.4,"y":2.12},{"t":"3.5 μs","x":15.9,"y":2.0},{"t":"3.5 μs","x":16.4,"y":2.13},{"t":"3.5 μs","x":16.9,"y":1.99},{"t":"3.5 μs","x":17.4,"y":2.12},{"t":"3.5 μs","x":17.9,"y":1.98},{"t":"3.5 μs","x":18.4,"y":2.12},{"t":"3.5 μs","x":18.9,"y":1.98},{"t":"3.5 μs","x":19.4,"y":2.1},{"t":"3.5 μs","x":19.9,"y":1.97},{"t":"3.5 μs","x":20.4,"y":2.06},{"t":"3.5 μs","x":20.9,"y":1.9},{"t":"3.5 μs","x":21.4,"y":1.95},{"t":"3.5 μs","x":21.9,"y":1.72},{"t":"3.5 μs","x":22.4,"y":1.73},{"t":"3.5 μs","x":22.9,"y":1.5},{"t":"3.5 μs","x":23.4,"y":1.55},{"t":"3.5 μs","x":23.9,"y":1.33},{"t":"3.5 μs","x":24.4,"y":1.36},{"t":"3.5 μs","x":24.9,"y":1.15},{"t":"3.5 μs","x":25.4,"y":1.18},{"t":"3.5 μs","x":25.9,"y":0.99},{"t":"3.5 μs","x":26.4,"y":1.01},{"t":"3.5 μs","x":26.9,"y":0.84},{"t":"3.5 μs","x":27.4,"y":0.85},{"t":"3.5 μs","x":27.8,"y":0.74},{"t":"3.5 μs","x":0.4,"y":0.7},{"t":"3.5 μs","x":1.4,"y":0.66},{"t":"3.5 μs","x":3.4,"y":0.55},{"t":"3.5 μs","x":4.6,"y":0.68},{"t":"3.5 μs","x":29.4,"y":0.58},{"t":"3.5 μs","x":31.4,"y":0.7},{"t":"3.5 μs","x":32.4,"y":0.6},
{"t":"4.4 μs","x":5.3,"y":0.62},{"t":"4.4 μs","x":5.8,"y":0.6},{"t":"4.4 μs","x":6.3,"y":0.69},{"t":"4.4 μs","x":6.8,"y":0.67},{"t":"4.4 μs","x":7.3,"y":0.76},{"t":"4.4 μs","x":7.8,"y":0.73},{"t":"4.4 μs","x":8.3,"y":0.85},{"t":"4.4 μs","x":8.8,"y":0.83},{"t":"4.4 μs","x":9.3,"y":0.95},{"t":"4.4 μs","x":9.8,"y":0.94},{"t":"4.4 μs","x":10.3,"y":1.06},{"t":"4.4 μs","x":10.8,"y":1.03},{"t":"4.4 μs","x":11.3,"y":1.15},{"t":"4.4 μs","x":11.8,"y":1.11},{"t":"4.4 μs","x":12.3,"y":1.23},{"t":"4.4 μs","x":12.8,"y":1.18},{"t":"4.4 μs","x":13.3,"y":1.29},{"t":"4.4 μs","x":13.8,"y":1.24},{"t":"4.4 μs","x":14.3,"y":1.34},{"t":"4.4 μs","x":14.8,"y":1.27},{"t":"4.4 μs","x":15.3,"y":1.37},{"t":"4.4 μs","x":15.8,"y":1.3},{"t":"4.4 μs","x":16.3,"y":1.39},{"t":"4.4 μs","x":16.8,"y":1.31},{"t":"4.4 μs","x":17.3,"y":1.39},{"t":"4.4 μs","x":17.8,"y":1.3},{"t":"4.4 μs","x":18.3,"y":1.37},{"t":"4.4 μs","x":18.8,"y":1.27},{"t":"4.4 μs","x":19.3,"y":1.33},{"t":"4.4 μs","x":19.8,"y":1.19},{"t":"4.4 μs","x":20.3,"y":1.24},{"t":"4.4 μs","x":20.8,"y":1.12},{"t":"4.4 μs","x":21.3,"y":1.14},{"t":"4.4 μs","x":21.8,"y":1.0},{"t":"4.4 μs","x":22.3,"y":1.02},{"t":"4.4 μs","x":22.8,"y":0.89},{"t":"4.4 μs","x":23.3,"y":0.91},{"t":"4.4 μs","x":23.8,"y":0.8},{"t":"4.4 μs","x":24.3,"y":0.81},{"t":"4.4 μs","x":24.8,"y":0.7},{"t":"4.4 μs","x":25.3,"y":0.72},{"t":"4.4 μs","x":25.8,"y":0.63},{"t":"4.4 μs","x":26.3,"y":0.66},{"t":"4.4 μs","x":26.8,"y":0.58},{"t":"4.4 μs","x":27.3,"y":0.61},{"t":"4.4 μs","x":27.8,"y":0.55},{"t":"4.4 μs","x":0.5,"y":0.39},{"t":"4.4 μs","x":1.5,"y":0.33},{"t":"4.4 μs","x":3.0,"y":0.41},{"t":"4.4 μs","x":4.6,"y":0.46},{"t":"4.4 μs","x":29.3,"y":0.37},{"t":"4.4 μs","x":31.5,"y":0.35},{"t":"4.4 μs","x":32.5,"y":0.41}
]
},
"spacing":36,
"resolve":{"scale":{"color":"independent","stroke":"independent","fill":"independent"},"legend":{"color":"independent"}},
"vconcat":[
{
 "title":{"text":"(a)","orient":"bottom","anchor":"middle","frame":"bounds","font":"Liberation Serif","fontSize":19,"fontWeight":"normal","color":"black","offset":15,"dx":-4},
 "resolve":{"scale":{"color":"independent","stroke":"independent","fill":"independent"},"legend":{"color":"independent"}},
 "vconcat":[
 {
 "width":594,"height":394,
 "view":{"stroke":null},
 "layer":[
  {"data":{"name":"pa"},"mark":{"type":"circle","size":7,"opacity":0.55},
   "encoding":{"x":{"field":"x","type":"quantitative","title":"Longitudinal coordinate [mm]","scale":{"domain":[-2.655,34.65],"nice":false,"zero":false},"axis":{"values":[0,5,10,15,20,25,30],"titlePadding":4,"titleX":305}},
    "y":{"field":"y","type":"quantitative","title":"nₑ [cm⁻³]","scale":{"domain":[0,1],"nice":false,"zero":false},"axis":{"values":[0,0.2,0.4,0.6,0.8,1.0],"format":".1f","titlePadding":4,"offset":-16}},
    "fill":{"field":"t","type":"nominal","scale":{"domain":["0.4 μs","0.2 μs","0.1 μs"],"range":["#1e1d55","#0d4d22","#6b0d2c"]},"legend":null}}},
  {"data":{"name":"la"},"mark":{"type":"line","strokeWidth":1.6,"strokeOpacity":0.38},
   "encoding":{"x":{"field":"x","type":"quantitative","title":"Longitudinal coordinate [mm]"},"y":{"field":"h","type":"quantitative","title":"nₑ [cm⁻³]"},"stroke":{"field":"t","type":"nominal","scale":{"domain":["0.4 μs","0.2 μs","0.1 μs"],"range":["#1e1d55","#0d4d22","#6b0d2c"]},"legend":null},"detail":{"field":"s"}}},
  {"data":{"name":"la"},"mark":{"type":"line","strokeWidth":1.6,"strokeOpacity":0.38},
   "encoding":{"x":{"field":"x","type":"quantitative","title":"Longitudinal coordinate [mm]"},"y":{"field":"l","type":"quantitative","title":"nₑ [cm⁻³]"},"stroke":{"field":"t","type":"nominal","legend":null},"detail":{"field":"s"}}},
  {"data":{"name":"la"},"mark":{"type":"line","strokeWidth":2},
   "encoding":{"x":{"field":"x","type":"quantitative","title":"Longitudinal coordinate [mm]"},"y":{"field":"y","type":"quantitative","title":"nₑ [cm⁻³]"},"color":{"field":"t","type":"nominal","scale":{"domain":["0.1 μs","0.2 μs","0.4 μs"],"range":["#861530","#17733c","#2c3580"]},"legend":{"title":null,"orient":"none","legendX":84,"legendY":-42,"direction":"horizontal","columns":3,"symbolOpacity":1}},"detail":{"field":"s"}}},
  {"data":{"name":"la"},"mark":{"type":"line","strokeWidth":2.3},
   "encoding":{"x":{"field":"x","type":"quantitative","title":"Longitudinal coordinate [mm]"},"y":{"field":"y","type":"quantitative","title":"nₑ [cm⁻³]"},"stroke":{"field":"t","type":"nominal","legend":null},"detail":{"field":"s"}}},
  {"data":{"name":"da"},"mark":{"type":"line","strokeWidth":1.8,"strokeDash":[6,4]},
   "encoding":{"x":{"field":"x","type":"quantitative","title":"Longitudinal coordinate [mm]"},"y":{"field":"y","type":"quantitative","title":"nₑ [cm⁻³]"},"stroke":{"field":"t","type":"nominal","legend":null},"detail":{"field":"s"}}},
  {"data":{"name":"gr"},"mark":{"type":"rule","color":"#8d8d8d","strokeWidth":1.6},"encoding":{"x":{"field":"x","type":"quantitative","title":"Longitudinal coordinate [mm]"}}},
  {"data":{"name":"bk"},"mark":{"type":"rule","color":"#1a1a1a","strokeWidth":2.8},"encoding":{"x":{"field":"x","type":"quantitative","title":"Longitudinal coordinate [mm]"}}},
  {"data":{"values":[{"f":1}]},"mark":{"type":"rule","color":"#262626","strokeWidth":2},"encoding":{"x":{"datum":-1.65,"type":"quantitative"}}},
  {"data":{"values":[{"f":1}]},"mark":{"type":"rule","color":"#262626","strokeWidth":2},"encoding":{"x":{"datum":34.65,"type":"quantitative"}}},
  {"data":{"values":[{"f":1}]},"mark":{"type":"rule","color":"#262626","strokeWidth":2},"encoding":{"x":{"datum":-1.65,"type":"quantitative"},"x2":{"datum":34.65},"y":{"datum":0,"type":"quantitative"}}},
  {"data":{"values":[{"f":1}]},"mark":{"type":"rule","color":"#262626","strokeWidth":2},"encoding":{"x":{"datum":-1.65,"type":"quantitative"},"x2":{"datum":34.65},"y":{"datum":1,"type":"quantitative"}}},
  {"data":{"values":[{"f":1}]},"mark":{"type":"text","text":"1e18","fontSize":19,"color":"#262626","align":"left","baseline":"alphabetic","dx":1,"dy":-4},"encoding":{"x":{"datum":-1.65,"type":"quantitative"},"y":{"datum":1,"type":"quantitative"}}}
 ]
 }
 ]
},
{
 "title":{"text":"(b)","orient":"bottom","anchor":"middle","frame":"bounds","font":"Liberation Serif","fontSize":19,"fontWeight":"normal","color":"black","offset":13,"dx":-4},
 "resolve":{"scale":{"color":"independent","stroke":"independent","fill":"independent"},"legend":{"color":"independent"}},
 "vconcat":[
 {
 "width":591,"height":588,
 "layer":[
  {"data":{"name":"pb"},"mark":{"type":"circle","size":7,"opacity":0.55},
   "encoding":{"x":{"field":"x","type":"quantitative","title":"Longitudinal coordinate [mm]","scale":{"domain":[-1.65,34.65],"nice":false,"zero":false},"axis":{"values":[0,5,10,15,20,25,30],"titlePadding":6}},
    "y":{"field":"y","type":"quantitative","title":"nₑ [cm⁻³]","scale":{"domain":[0,7.08],"nice":false,"zero":false},"axis":{"values":[0,1,2,3,4,5,6,7],"format":"d","titlePadding":7}},
    "fill":{"field":"t","type":"nominal","scale":{"domain":["0.8 μs","1.8 μs","2.7 μs","3.5 μs","4.4 μs"],"range":["#1e1d55","#0d4d22","#5e4c12","#6b0d2c","#c8174a"]},"legend":null}}},
  {"data":{"name":"lb"},"mark":{"type":"line","strokeWidth":1.6,"strokeOpacity":0.38},
   "encoding":{"x":{"field":"x","type":"quantitative","title":"Longitudinal coordinate [mm]"},"y":{"field":"h","type":"quantitative","title":"nₑ [cm⁻³]"},"stroke":{"field":"t","type":"nominal","scale":{"domain":["0.8 μs","1.8 μs","2.7 μs","3.5 μs","4.4 μs"],"range":["#1e1d55","#0d4d22","#5e4c12","#6b0d2c","#c8174a"]},"legend":null},"detail":{"field":"s"}}},
  {"data":{"name":"lb"},"mark":{"type":"line","strokeWidth":1.6,"strokeOpacity":0.38},
   "encoding":{"x":{"field":"x","type":"quantitative","title":"Longitudinal coordinate [mm]"},"y":{"field":"l","type":"quantitative","title":"nₑ [cm⁻³]"},"stroke":{"field":"t","type":"nominal","legend":null},"detail":{"field":"s"}}},
  {"data":{"name":"lb"},"mark":{"type":"line","strokeWidth":2},
   "encoding":{"x":{"field":"x","type":"quantitative","title":"Longitudinal coordinate [mm]"},"y":{"field":"y","type":"quantitative","title":"nₑ [cm⁻³]"},"color":{"field":"t","type":"nominal","scale":{"domain":["0.8 μs","2.7 μs","4.4 μs","1.8 μs","3.5 μs"],"range":["#2c3580","#898a35","#d01c54","#16904a","#861530"]},"legend":{"title":null,"orient":"none","legendX":93,"legendY":-74,"direction":"horizontal","columns":3,"symbolOpacity":1}},"detail":{"field":"s"}}},
  {"data":{"name":"lb"},"mark":{"type":"line","strokeWidth":2.3},
   "encoding":{"x":{"field":"x","type":"quantitative","title":"Longitudinal coordinate [mm]"},"y":{"field":"y","type":"quantitative","title":"nₑ [cm⁻³]"},"stroke":{"field":"t","type":"nominal","legend":null},"detail":{"field":"s"}}},
  {"data":{"name":"db"},"mark":{"type":"line","strokeWidth":1.8,"strokeDash":[6,4]},
   "encoding":{"x":{"field":"x","type":"quantitative","title":"Longitudinal coordinate [mm]"},"y":{"field":"y","type":"quantitative","title":"nₑ [cm⁻³]"},"stroke":{"field":"t","type":"nominal","legend":null},"detail":{"field":"s"}}},
  {"data":{"name":"gr"},"mark":{"type":"rule","color":"#8d8d8d","strokeWidth":1.6},"encoding":{"x":{"field":"x","type":"quantitative","title":"Longitudinal coordinate [mm]"}}},
  {"data":{"name":"bk"},"mark":{"type":"rule","color":"#1a1a1a","strokeWidth":2.8},"encoding":{"x":{"field":"x","type":"quantitative","title":"Longitudinal coordinate [mm]"}}},
  {"data":{"values":[{"f":1}]},"mark":{"type":"text","text":"1e17","fontSize":19,"color":"#262626","align":"left","baseline":"alphabetic","dx":1,"dy":-4},"encoding":{"x":{"datum":-1.65,"type":"quantitative"},"y":{"datum":7.08,"type":"quantitative"}}}
 ]
 }
 ]
}
]
}
